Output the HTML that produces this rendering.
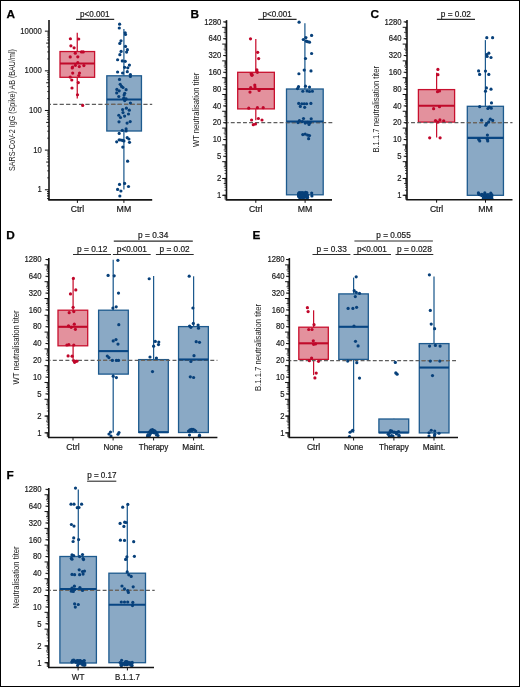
<!DOCTYPE html>
<html><head><meta charset="utf-8"><style>
html,body{margin:0;padding:0;background:#fff;}
body{width:520px;height:687px;position:relative;overflow:hidden;}
svg{will-change:transform}
#frame{position:absolute;left:0;top:0;width:518px;height:685px;border:1px solid #000;pointer-events:none;}
</style></head><body>
<svg width="520" height="687" viewBox="0 0 520 687" style="position:absolute;left:0;top:0" font-family='"Liberation Sans", sans-serif'>
<rect x="0" y="0" width="520" height="687" fill="#fff"/>
<text x="6.40" y="18.00" font-size="11.8" text-anchor="start" fill="#000" font-weight="bold" stroke="#000" stroke-width="0.25" >A</text>
<line x1="49.00" y1="20.10" x2="49.00" y2="199.90" stroke="#141414" stroke-width="1.6" />
<line x1="47.10" y1="198.57" x2="49.00" y2="198.57" stroke="#141414" stroke-width="0.8" />
<line x1="47.10" y1="195.91" x2="49.00" y2="195.91" stroke="#141414" stroke-width="0.8" />
<line x1="47.10" y1="193.61" x2="49.00" y2="193.61" stroke="#141414" stroke-width="0.8" />
<line x1="47.10" y1="191.58" x2="49.00" y2="191.58" stroke="#141414" stroke-width="0.8" />
<line x1="47.10" y1="177.83" x2="49.00" y2="177.83" stroke="#141414" stroke-width="0.8" />
<line x1="47.10" y1="170.85" x2="49.00" y2="170.85" stroke="#141414" stroke-width="0.8" />
<line x1="47.10" y1="165.90" x2="49.00" y2="165.90" stroke="#141414" stroke-width="0.8" />
<line x1="47.10" y1="158.92" x2="49.00" y2="158.92" stroke="#141414" stroke-width="0.8" />
<line x1="47.10" y1="156.26" x2="49.00" y2="156.26" stroke="#141414" stroke-width="0.8" />
<line x1="47.10" y1="153.96" x2="49.00" y2="153.96" stroke="#141414" stroke-width="0.8" />
<line x1="47.10" y1="151.93" x2="49.00" y2="151.93" stroke="#141414" stroke-width="0.8" />
<line x1="47.10" y1="138.18" x2="49.00" y2="138.18" stroke="#141414" stroke-width="0.8" />
<line x1="47.10" y1="131.20" x2="49.00" y2="131.20" stroke="#141414" stroke-width="0.8" />
<line x1="47.10" y1="126.25" x2="49.00" y2="126.25" stroke="#141414" stroke-width="0.8" />
<line x1="47.10" y1="119.27" x2="49.00" y2="119.27" stroke="#141414" stroke-width="0.8" />
<line x1="47.10" y1="116.61" x2="49.00" y2="116.61" stroke="#141414" stroke-width="0.8" />
<line x1="47.10" y1="114.31" x2="49.00" y2="114.31" stroke="#141414" stroke-width="0.8" />
<line x1="47.10" y1="112.28" x2="49.00" y2="112.28" stroke="#141414" stroke-width="0.8" />
<line x1="47.10" y1="98.53" x2="49.00" y2="98.53" stroke="#141414" stroke-width="0.8" />
<line x1="47.10" y1="91.55" x2="49.00" y2="91.55" stroke="#141414" stroke-width="0.8" />
<line x1="47.10" y1="86.60" x2="49.00" y2="86.60" stroke="#141414" stroke-width="0.8" />
<line x1="47.10" y1="79.62" x2="49.00" y2="79.62" stroke="#141414" stroke-width="0.8" />
<line x1="47.10" y1="76.96" x2="49.00" y2="76.96" stroke="#141414" stroke-width="0.8" />
<line x1="47.10" y1="74.66" x2="49.00" y2="74.66" stroke="#141414" stroke-width="0.8" />
<line x1="47.10" y1="72.63" x2="49.00" y2="72.63" stroke="#141414" stroke-width="0.8" />
<line x1="47.10" y1="58.88" x2="49.00" y2="58.88" stroke="#141414" stroke-width="0.8" />
<line x1="47.10" y1="51.90" x2="49.00" y2="51.90" stroke="#141414" stroke-width="0.8" />
<line x1="47.10" y1="46.95" x2="49.00" y2="46.95" stroke="#141414" stroke-width="0.8" />
<line x1="47.10" y1="39.97" x2="49.00" y2="39.97" stroke="#141414" stroke-width="0.8" />
<line x1="47.10" y1="37.31" x2="49.00" y2="37.31" stroke="#141414" stroke-width="0.8" />
<line x1="47.10" y1="35.01" x2="49.00" y2="35.01" stroke="#141414" stroke-width="0.8" />
<line x1="47.10" y1="32.98" x2="49.00" y2="32.98" stroke="#141414" stroke-width="0.8" />
<line x1="47.10" y1="198.57" x2="49.00" y2="198.57" stroke="#141414" stroke-width="0.8" />
<line x1="47.10" y1="195.91" x2="49.00" y2="195.91" stroke="#141414" stroke-width="0.8" />
<line x1="47.10" y1="193.61" x2="49.00" y2="193.61" stroke="#141414" stroke-width="0.8" />
<line x1="47.10" y1="191.58" x2="49.00" y2="191.58" stroke="#141414" stroke-width="0.8" />
<line x1="46.20" y1="162.06" x2="49.00" y2="162.06" stroke="#141414" stroke-width="1.0" />
<line x1="46.20" y1="122.41" x2="49.00" y2="122.41" stroke="#141414" stroke-width="1.0" />
<line x1="46.20" y1="82.76" x2="49.00" y2="82.76" stroke="#141414" stroke-width="1.0" />
<line x1="46.20" y1="43.11" x2="49.00" y2="43.11" stroke="#141414" stroke-width="1.0" />
<line x1="44.90" y1="31.17" x2="49.00" y2="31.17" stroke="#141414" stroke-width="1.0" />
<text x="41.80" y="33.67" font-size="9.2" text-anchor="end" fill="#1a1a1a" font-weight="normal" stroke="#1a1a1a" stroke-width="0.2" textLength="21.48" lengthAdjust="spacingAndGlyphs" >10000</text>
<line x1="44.90" y1="70.82" x2="49.00" y2="70.82" stroke="#141414" stroke-width="1.0" />
<text x="41.80" y="73.32" font-size="9.2" text-anchor="end" fill="#1a1a1a" font-weight="normal" stroke="#1a1a1a" stroke-width="0.2" textLength="17.19" lengthAdjust="spacingAndGlyphs" >1000</text>
<line x1="44.90" y1="110.47" x2="49.00" y2="110.47" stroke="#141414" stroke-width="1.0" />
<text x="41.80" y="112.97" font-size="9.2" text-anchor="end" fill="#1a1a1a" font-weight="normal" stroke="#1a1a1a" stroke-width="0.2" textLength="12.89" lengthAdjust="spacingAndGlyphs" >100</text>
<line x1="44.90" y1="150.12" x2="49.00" y2="150.12" stroke="#141414" stroke-width="1.0" />
<text x="41.80" y="152.62" font-size="9.2" text-anchor="end" fill="#1a1a1a" font-weight="normal" stroke="#1a1a1a" stroke-width="0.2" textLength="8.59" lengthAdjust="spacingAndGlyphs" >10</text>
<line x1="44.90" y1="189.77" x2="49.00" y2="189.77" stroke="#141414" stroke-width="1.0" />
<text x="41.80" y="192.27" font-size="9.2" text-anchor="end" fill="#1a1a1a" font-weight="normal" stroke="#1a1a1a" stroke-width="0.2" textLength="4.3" lengthAdjust="spacingAndGlyphs" >1</text>
<line x1="77.25" y1="32.70" x2="77.25" y2="51.55" stroke="#c8102e" stroke-width="1.25" />
<line x1="77.25" y1="77.30" x2="77.25" y2="98.60" stroke="#c8102e" stroke-width="1.25" />
<rect x="60.00" y="51.55" width="34.60" height="25.75" fill="#e3919d" stroke="#c8102e" stroke-width="1.3"/>
<line x1="123.90" y1="29.10" x2="123.90" y2="75.80" stroke="#1d5a8e" stroke-width="1.25" />
<line x1="123.90" y1="131.00" x2="123.90" y2="189.60" stroke="#1d5a8e" stroke-width="1.25" />
<rect x="106.80" y="75.80" width="34.65" height="55.20" fill="#8aa9c5" stroke="#1d5a8e" stroke-width="1.3"/>
<line x1="49.80" y1="104.40" x2="152.20" y2="104.40" stroke="#5e5e5e" stroke-width="1.3" stroke-dasharray="4.2 2.24" stroke-dashoffset="3.04"/>
<clipPath id="cl1"><rect x="107.50" y="75.80" width="33.25" height="55.20"/></clipPath>
<line x1="49.80" y1="104.40" x2="152.20" y2="104.40" stroke="#6c655d" stroke-width="1.3" stroke-dasharray="4.2 2.24" stroke-dashoffset="3.04" clip-path="url(#cl1)"/>
<line x1="60.00" y1="63.55" x2="94.60" y2="63.55" stroke="#c00a2a" stroke-width="2.1" />
<line x1="106.80" y1="99.50" x2="141.45" y2="99.50" stroke="#084683" stroke-width="2.1" />
<circle cx="70.40" cy="38.75" r="1.6" fill="#c0062a"/>
<circle cx="78.70" cy="39.00" r="1.6" fill="#c0062a"/>
<circle cx="70.90" cy="45.80" r="1.6" fill="#c0062a"/>
<circle cx="74.10" cy="47.80" r="1.6" fill="#c0062a"/>
<circle cx="75.30" cy="53.20" r="1.6" fill="#c0062a"/>
<circle cx="81.50" cy="51.90" r="1.6" fill="#c0062a"/>
<circle cx="83.20" cy="51.90" r="1.6" fill="#c0062a"/>
<circle cx="70.20" cy="56.90" r="1.6" fill="#c0062a"/>
<circle cx="77.80" cy="56.80" r="1.6" fill="#c0062a"/>
<circle cx="77.80" cy="62.70" r="1.6" fill="#c0062a"/>
<circle cx="75.40" cy="65.30" r="1.6" fill="#c0062a"/>
<circle cx="72.50" cy="67.10" r="1.6" fill="#c0062a"/>
<circle cx="72.20" cy="68.00" r="1.6" fill="#c0062a"/>
<circle cx="79.30" cy="66.60" r="1.6" fill="#c0062a"/>
<circle cx="83.90" cy="65.60" r="1.6" fill="#c0062a"/>
<circle cx="72.70" cy="73.10" r="1.6" fill="#c0062a"/>
<circle cx="79.50" cy="73.10" r="1.6" fill="#c0062a"/>
<circle cx="78.80" cy="75.50" r="1.6" fill="#c0062a"/>
<circle cx="70.20" cy="77.10" r="1.6" fill="#c0062a"/>
<circle cx="71.80" cy="80.00" r="1.6" fill="#c0062a"/>
<circle cx="78.30" cy="82.60" r="1.6" fill="#c0062a"/>
<circle cx="72.00" cy="88.00" r="1.6" fill="#c0062a"/>
<circle cx="77.50" cy="94.75" r="1.6" fill="#c0062a"/>
<circle cx="82.70" cy="105.45" r="1.6" fill="#c0062a"/>
<circle cx="119.60" cy="24.20" r="1.6" fill="#07407a"/>
<circle cx="119.30" cy="28.00" r="1.6" fill="#07407a"/>
<circle cx="125.20" cy="32.80" r="1.6" fill="#07407a"/>
<circle cx="125.50" cy="34.50" r="1.6" fill="#07407a"/>
<circle cx="121.00" cy="40.80" r="1.6" fill="#07407a"/>
<circle cx="119.80" cy="43.40" r="1.6" fill="#07407a"/>
<circle cx="125.50" cy="46.40" r="1.6" fill="#07407a"/>
<circle cx="127.40" cy="49.70" r="1.6" fill="#07407a"/>
<circle cx="121.10" cy="51.40" r="1.6" fill="#07407a"/>
<circle cx="126.60" cy="52.10" r="1.6" fill="#07407a"/>
<circle cx="119.85" cy="54.70" r="1.6" fill="#07407a"/>
<circle cx="117.60" cy="59.75" r="1.6" fill="#07407a"/>
<circle cx="122.30" cy="60.90" r="1.6" fill="#07407a"/>
<circle cx="125.25" cy="61.30" r="1.6" fill="#07407a"/>
<circle cx="129.40" cy="65.10" r="1.6" fill="#07407a"/>
<circle cx="124.60" cy="67.30" r="1.6" fill="#07407a"/>
<circle cx="127.80" cy="67.85" r="1.6" fill="#07407a"/>
<circle cx="117.60" cy="72.00" r="1.6" fill="#07407a"/>
<circle cx="122.60" cy="73.00" r="1.6" fill="#07407a"/>
<circle cx="127.30" cy="71.70" r="1.6" fill="#07407a"/>
<circle cx="130.40" cy="74.60" r="1.6" fill="#07407a"/>
<circle cx="130.40" cy="76.50" r="1.6" fill="#07407a"/>
<circle cx="119.50" cy="79.40" r="1.6" fill="#07407a"/>
<circle cx="120.20" cy="84.30" r="1.6" fill="#07407a"/>
<circle cx="121.60" cy="86.40" r="1.6" fill="#07407a"/>
<circle cx="123.00" cy="87.50" r="1.6" fill="#07407a"/>
<circle cx="116.90" cy="89.40" r="1.6" fill="#07407a"/>
<circle cx="119.20" cy="90.80" r="1.6" fill="#07407a"/>
<circle cx="126.10" cy="89.70" r="1.6" fill="#07407a"/>
<circle cx="116.70" cy="92.90" r="1.6" fill="#07407a"/>
<circle cx="124.70" cy="93.35" r="1.6" fill="#07407a"/>
<circle cx="124.10" cy="95.10" r="1.6" fill="#07407a"/>
<circle cx="118.80" cy="96.50" r="1.6" fill="#07407a"/>
<circle cx="123.70" cy="98.20" r="1.6" fill="#07407a"/>
<circle cx="125.00" cy="99.20" r="1.6" fill="#07407a"/>
<circle cx="126.10" cy="98.90" r="1.6" fill="#07407a"/>
<circle cx="124.70" cy="100.60" r="1.6" fill="#07407a"/>
<circle cx="130.40" cy="103.00" r="1.6" fill="#07407a"/>
<circle cx="126.40" cy="108.20" r="1.6" fill="#07407a"/>
<circle cx="122.60" cy="109.60" r="1.6" fill="#07407a"/>
<circle cx="129.30" cy="110.20" r="1.6" fill="#07407a"/>
<circle cx="123.00" cy="112.60" r="1.6" fill="#07407a"/>
<circle cx="128.50" cy="114.00" r="1.6" fill="#07407a"/>
<circle cx="118.80" cy="115.25" r="1.6" fill="#07407a"/>
<circle cx="120.50" cy="117.50" r="1.6" fill="#07407a"/>
<circle cx="124.60" cy="116.10" r="1.6" fill="#07407a"/>
<circle cx="119.00" cy="121.80" r="1.6" fill="#07407a"/>
<circle cx="127.10" cy="123.10" r="1.6" fill="#07407a"/>
<circle cx="130.20" cy="121.60" r="1.6" fill="#07407a"/>
<circle cx="126.10" cy="128.90" r="1.6" fill="#07407a"/>
<circle cx="122.30" cy="130.30" r="1.6" fill="#07407a"/>
<circle cx="126.10" cy="131.00" r="1.6" fill="#07407a"/>
<circle cx="119.20" cy="133.40" r="1.6" fill="#07407a"/>
<circle cx="127.20" cy="137.70" r="1.6" fill="#07407a"/>
<circle cx="128.90" cy="139.00" r="1.6" fill="#07407a"/>
<circle cx="129.50" cy="142.30" r="1.6" fill="#07407a"/>
<circle cx="116.70" cy="141.80" r="1.6" fill="#07407a"/>
<circle cx="119.20" cy="139.80" r="1.6" fill="#07407a"/>
<circle cx="120.90" cy="140.00" r="1.6" fill="#07407a"/>
<circle cx="122.60" cy="140.40" r="1.6" fill="#07407a"/>
<circle cx="123.90" cy="140.90" r="1.6" fill="#07407a"/>
<circle cx="122.80" cy="147.10" r="1.6" fill="#07407a"/>
<circle cx="127.60" cy="161.20" r="1.6" fill="#07407a"/>
<circle cx="119.50" cy="184.40" r="1.6" fill="#07407a"/>
<circle cx="124.60" cy="183.40" r="1.6" fill="#07407a"/>
<circle cx="128.50" cy="186.50" r="1.6" fill="#07407a"/>
<circle cx="117.60" cy="189.40" r="1.6" fill="#07407a"/>
<circle cx="120.90" cy="191.00" r="1.6" fill="#07407a"/>
<circle cx="119.85" cy="196.00" r="1.6" fill="#07407a"/>
<line x1="48.20" y1="199.90" x2="152.20" y2="199.90" stroke="#141414" stroke-width="1.6" />
<line x1="77.40" y1="199.90" x2="77.40" y2="202.90" stroke="#141414" stroke-width="1.0" />
<text x="77.40" y="211.90" font-size="8.3" text-anchor="middle" fill="#1a1a1a" font-weight="normal" stroke="#1a1a1a" stroke-width="0.2" textLength="13.4" lengthAdjust="spacingAndGlyphs" >Ctrl</text>
<line x1="123.90" y1="199.90" x2="123.90" y2="202.90" stroke="#141414" stroke-width="1.0" />
<text x="123.90" y="211.90" font-size="8.3" text-anchor="middle" fill="#1a1a1a" font-weight="normal" stroke="#1a1a1a" stroke-width="0.2" textLength="14.6" lengthAdjust="spacingAndGlyphs" >MM</text>
<text x="14.60" y="110.05" font-size="9.8" text-anchor="middle" fill="#222" font-weight="normal" textLength="122" lengthAdjust="spacingAndGlyphs" transform="rotate(-90 14.60 110.05)" >SARS-CoV-2 IgG (Spike) AB (BAU/ml)</text>
<text x="94.80" y="17.00" font-size="8.4" text-anchor="middle" fill="#1a1a1a" font-weight="normal" stroke="#1a1a1a" stroke-width="0.2" textLength="29.4" lengthAdjust="spacingAndGlyphs" >p&lt;0.001</text>
<line x1="76.00" y1="19.40" x2="114.20" y2="19.40" stroke="#2b2b2b" stroke-width="1.1" />
<text x="190.40" y="18.00" font-size="11.8" text-anchor="start" fill="#000" font-weight="bold" stroke="#000" stroke-width="0.25" >B</text>
<line x1="226.50" y1="20.15" x2="226.50" y2="199.85" stroke="#141414" stroke-width="1.6" />
<line x1="223.70" y1="183.53" x2="226.50" y2="183.53" stroke="#141414" stroke-width="0.9" />
<line x1="223.70" y1="166.73" x2="226.50" y2="166.73" stroke="#141414" stroke-width="0.9" />
<line x1="223.70" y1="149.93" x2="226.50" y2="149.93" stroke="#141414" stroke-width="0.9" />
<line x1="223.70" y1="133.14" x2="226.50" y2="133.14" stroke="#141414" stroke-width="0.9" />
<line x1="223.70" y1="116.34" x2="226.50" y2="116.34" stroke="#141414" stroke-width="0.9" />
<line x1="223.70" y1="99.54" x2="226.50" y2="99.54" stroke="#141414" stroke-width="0.9" />
<line x1="223.70" y1="82.74" x2="226.50" y2="82.74" stroke="#141414" stroke-width="0.9" />
<line x1="223.70" y1="65.95" x2="226.50" y2="65.95" stroke="#141414" stroke-width="0.9" />
<line x1="223.70" y1="49.15" x2="226.50" y2="49.15" stroke="#141414" stroke-width="0.9" />
<line x1="223.70" y1="32.35" x2="226.50" y2="32.35" stroke="#141414" stroke-width="0.9" />
<line x1="224.50" y1="199.00" x2="226.50" y2="199.00" stroke="#141414" stroke-width="0.8" />
<line x1="224.50" y1="197.87" x2="226.50" y2="197.87" stroke="#141414" stroke-width="0.8" />
<line x1="224.50" y1="196.90" x2="226.50" y2="196.90" stroke="#141414" stroke-width="0.8" />
<line x1="224.50" y1="196.04" x2="226.50" y2="196.04" stroke="#141414" stroke-width="0.8" />
<line x1="224.50" y1="190.21" x2="226.50" y2="190.21" stroke="#141414" stroke-width="0.8" />
<line x1="224.50" y1="187.26" x2="226.50" y2="187.26" stroke="#141414" stroke-width="0.8" />
<line x1="224.50" y1="185.16" x2="226.50" y2="185.16" stroke="#141414" stroke-width="0.8" />
<line x1="224.50" y1="182.20" x2="226.50" y2="182.20" stroke="#141414" stroke-width="0.8" />
<line x1="224.50" y1="181.07" x2="226.50" y2="181.07" stroke="#141414" stroke-width="0.8" />
<line x1="224.50" y1="180.10" x2="226.50" y2="180.10" stroke="#141414" stroke-width="0.8" />
<line x1="224.50" y1="179.24" x2="226.50" y2="179.24" stroke="#141414" stroke-width="0.8" />
<line x1="224.50" y1="173.42" x2="226.50" y2="173.42" stroke="#141414" stroke-width="0.8" />
<line x1="224.50" y1="170.46" x2="226.50" y2="170.46" stroke="#141414" stroke-width="0.8" />
<line x1="224.50" y1="168.36" x2="226.50" y2="168.36" stroke="#141414" stroke-width="0.8" />
<line x1="224.50" y1="165.40" x2="226.50" y2="165.40" stroke="#141414" stroke-width="0.8" />
<line x1="224.50" y1="164.28" x2="226.50" y2="164.28" stroke="#141414" stroke-width="0.8" />
<line x1="224.50" y1="163.30" x2="226.50" y2="163.30" stroke="#141414" stroke-width="0.8" />
<line x1="224.50" y1="162.44" x2="226.50" y2="162.44" stroke="#141414" stroke-width="0.8" />
<line x1="224.50" y1="156.62" x2="226.50" y2="156.62" stroke="#141414" stroke-width="0.8" />
<line x1="224.50" y1="153.66" x2="226.50" y2="153.66" stroke="#141414" stroke-width="0.8" />
<line x1="224.50" y1="151.56" x2="226.50" y2="151.56" stroke="#141414" stroke-width="0.8" />
<line x1="224.50" y1="148.60" x2="226.50" y2="148.60" stroke="#141414" stroke-width="0.8" />
<line x1="224.50" y1="147.48" x2="226.50" y2="147.48" stroke="#141414" stroke-width="0.8" />
<line x1="224.50" y1="146.51" x2="226.50" y2="146.51" stroke="#141414" stroke-width="0.8" />
<line x1="224.50" y1="145.65" x2="226.50" y2="145.65" stroke="#141414" stroke-width="0.8" />
<line x1="224.50" y1="139.82" x2="226.50" y2="139.82" stroke="#141414" stroke-width="0.8" />
<line x1="224.50" y1="136.86" x2="226.50" y2="136.86" stroke="#141414" stroke-width="0.8" />
<line x1="224.50" y1="134.76" x2="226.50" y2="134.76" stroke="#141414" stroke-width="0.8" />
<line x1="224.50" y1="131.81" x2="226.50" y2="131.81" stroke="#141414" stroke-width="0.8" />
<line x1="224.50" y1="130.68" x2="226.50" y2="130.68" stroke="#141414" stroke-width="0.8" />
<line x1="224.50" y1="129.71" x2="226.50" y2="129.71" stroke="#141414" stroke-width="0.8" />
<line x1="224.50" y1="128.85" x2="226.50" y2="128.85" stroke="#141414" stroke-width="0.8" />
<line x1="224.50" y1="123.02" x2="226.50" y2="123.02" stroke="#141414" stroke-width="0.8" />
<line x1="224.50" y1="120.07" x2="226.50" y2="120.07" stroke="#141414" stroke-width="0.8" />
<line x1="224.50" y1="117.97" x2="226.50" y2="117.97" stroke="#141414" stroke-width="0.8" />
<line x1="224.50" y1="115.01" x2="226.50" y2="115.01" stroke="#141414" stroke-width="0.8" />
<line x1="224.50" y1="113.88" x2="226.50" y2="113.88" stroke="#141414" stroke-width="0.8" />
<line x1="224.50" y1="112.91" x2="226.50" y2="112.91" stroke="#141414" stroke-width="0.8" />
<line x1="224.50" y1="112.05" x2="226.50" y2="112.05" stroke="#141414" stroke-width="0.8" />
<line x1="224.50" y1="106.23" x2="226.50" y2="106.23" stroke="#141414" stroke-width="0.8" />
<line x1="224.50" y1="103.27" x2="226.50" y2="103.27" stroke="#141414" stroke-width="0.8" />
<line x1="224.50" y1="101.17" x2="226.50" y2="101.17" stroke="#141414" stroke-width="0.8" />
<line x1="224.50" y1="98.21" x2="226.50" y2="98.21" stroke="#141414" stroke-width="0.8" />
<line x1="224.50" y1="97.09" x2="226.50" y2="97.09" stroke="#141414" stroke-width="0.8" />
<line x1="224.50" y1="96.11" x2="226.50" y2="96.11" stroke="#141414" stroke-width="0.8" />
<line x1="224.50" y1="95.25" x2="226.50" y2="95.25" stroke="#141414" stroke-width="0.8" />
<line x1="224.50" y1="89.43" x2="226.50" y2="89.43" stroke="#141414" stroke-width="0.8" />
<line x1="224.50" y1="86.47" x2="226.50" y2="86.47" stroke="#141414" stroke-width="0.8" />
<line x1="224.50" y1="84.37" x2="226.50" y2="84.37" stroke="#141414" stroke-width="0.8" />
<line x1="224.50" y1="81.41" x2="226.50" y2="81.41" stroke="#141414" stroke-width="0.8" />
<line x1="224.50" y1="80.29" x2="226.50" y2="80.29" stroke="#141414" stroke-width="0.8" />
<line x1="224.50" y1="79.32" x2="226.50" y2="79.32" stroke="#141414" stroke-width="0.8" />
<line x1="224.50" y1="78.46" x2="226.50" y2="78.46" stroke="#141414" stroke-width="0.8" />
<line x1="224.50" y1="72.63" x2="226.50" y2="72.63" stroke="#141414" stroke-width="0.8" />
<line x1="224.50" y1="69.67" x2="226.50" y2="69.67" stroke="#141414" stroke-width="0.8" />
<line x1="224.50" y1="67.57" x2="226.50" y2="67.57" stroke="#141414" stroke-width="0.8" />
<line x1="224.50" y1="64.62" x2="226.50" y2="64.62" stroke="#141414" stroke-width="0.8" />
<line x1="224.50" y1="63.49" x2="226.50" y2="63.49" stroke="#141414" stroke-width="0.8" />
<line x1="224.50" y1="62.52" x2="226.50" y2="62.52" stroke="#141414" stroke-width="0.8" />
<line x1="224.50" y1="61.66" x2="226.50" y2="61.66" stroke="#141414" stroke-width="0.8" />
<line x1="224.50" y1="55.83" x2="226.50" y2="55.83" stroke="#141414" stroke-width="0.8" />
<line x1="224.50" y1="52.88" x2="226.50" y2="52.88" stroke="#141414" stroke-width="0.8" />
<line x1="224.50" y1="50.78" x2="226.50" y2="50.78" stroke="#141414" stroke-width="0.8" />
<line x1="224.50" y1="47.82" x2="226.50" y2="47.82" stroke="#141414" stroke-width="0.8" />
<line x1="224.50" y1="46.69" x2="226.50" y2="46.69" stroke="#141414" stroke-width="0.8" />
<line x1="224.50" y1="45.72" x2="226.50" y2="45.72" stroke="#141414" stroke-width="0.8" />
<line x1="224.50" y1="44.86" x2="226.50" y2="44.86" stroke="#141414" stroke-width="0.8" />
<line x1="224.50" y1="39.04" x2="226.50" y2="39.04" stroke="#141414" stroke-width="0.8" />
<line x1="224.50" y1="36.08" x2="226.50" y2="36.08" stroke="#141414" stroke-width="0.8" />
<line x1="224.50" y1="33.98" x2="226.50" y2="33.98" stroke="#141414" stroke-width="0.8" />
<line x1="224.50" y1="31.02" x2="226.50" y2="31.02" stroke="#141414" stroke-width="0.8" />
<line x1="224.50" y1="29.90" x2="226.50" y2="29.90" stroke="#141414" stroke-width="0.8" />
<line x1="224.50" y1="28.92" x2="226.50" y2="28.92" stroke="#141414" stroke-width="0.8" />
<line x1="224.50" y1="28.06" x2="226.50" y2="28.06" stroke="#141414" stroke-width="0.8" />
<line x1="224.50" y1="22.24" x2="226.50" y2="22.24" stroke="#141414" stroke-width="0.8" />
<line x1="222.20" y1="195.27" x2="226.50" y2="195.27" stroke="#141414" stroke-width="1.0" />
<line x1="222.20" y1="178.47" x2="226.50" y2="178.47" stroke="#141414" stroke-width="1.0" />
<line x1="222.20" y1="161.68" x2="226.50" y2="161.68" stroke="#141414" stroke-width="1.0" />
<line x1="222.20" y1="144.88" x2="226.50" y2="144.88" stroke="#141414" stroke-width="1.0" />
<line x1="222.20" y1="128.08" x2="226.50" y2="128.08" stroke="#141414" stroke-width="1.0" />
<line x1="222.20" y1="111.28" x2="226.50" y2="111.28" stroke="#141414" stroke-width="1.0" />
<line x1="222.20" y1="94.49" x2="226.50" y2="94.49" stroke="#141414" stroke-width="1.0" />
<line x1="222.20" y1="77.69" x2="226.50" y2="77.69" stroke="#141414" stroke-width="1.0" />
<line x1="222.20" y1="60.89" x2="226.50" y2="60.89" stroke="#141414" stroke-width="1.0" />
<line x1="222.20" y1="44.09" x2="226.50" y2="44.09" stroke="#141414" stroke-width="1.0" />
<line x1="222.20" y1="27.30" x2="226.50" y2="27.30" stroke="#141414" stroke-width="1.0" />
<line x1="223.20" y1="21.89" x2="226.50" y2="21.89" stroke="#141414" stroke-width="1.0" />
<text x="221.40" y="24.69" font-size="9.2" text-anchor="end" fill="#1a1a1a" font-weight="normal" stroke="#1a1a1a" stroke-width="0.2" textLength="17.19" lengthAdjust="spacingAndGlyphs" >1280</text>
<line x1="223.20" y1="38.69" x2="226.50" y2="38.69" stroke="#141414" stroke-width="1.0" />
<text x="221.40" y="41.49" font-size="9.2" text-anchor="end" fill="#1a1a1a" font-weight="normal" stroke="#1a1a1a" stroke-width="0.2" textLength="12.89" lengthAdjust="spacingAndGlyphs" >640</text>
<line x1="223.20" y1="55.48" x2="226.50" y2="55.48" stroke="#141414" stroke-width="1.0" />
<text x="221.40" y="58.28" font-size="9.2" text-anchor="end" fill="#1a1a1a" font-weight="normal" stroke="#1a1a1a" stroke-width="0.2" textLength="12.89" lengthAdjust="spacingAndGlyphs" >320</text>
<line x1="223.20" y1="72.28" x2="226.50" y2="72.28" stroke="#141414" stroke-width="1.0" />
<text x="221.40" y="75.08" font-size="9.2" text-anchor="end" fill="#1a1a1a" font-weight="normal" stroke="#1a1a1a" stroke-width="0.2" textLength="12.89" lengthAdjust="spacingAndGlyphs" >160</text>
<line x1="223.20" y1="89.08" x2="226.50" y2="89.08" stroke="#141414" stroke-width="1.0" />
<text x="221.40" y="91.88" font-size="9.2" text-anchor="end" fill="#1a1a1a" font-weight="normal" stroke="#1a1a1a" stroke-width="0.2" textLength="8.59" lengthAdjust="spacingAndGlyphs" >80</text>
<line x1="223.20" y1="105.88" x2="226.50" y2="105.88" stroke="#141414" stroke-width="1.0" />
<text x="221.40" y="108.68" font-size="9.2" text-anchor="end" fill="#1a1a1a" font-weight="normal" stroke="#1a1a1a" stroke-width="0.2" textLength="8.59" lengthAdjust="spacingAndGlyphs" >40</text>
<line x1="223.20" y1="122.67" x2="226.50" y2="122.67" stroke="#141414" stroke-width="1.0" />
<text x="221.40" y="125.47" font-size="9.2" text-anchor="end" fill="#1a1a1a" font-weight="normal" stroke="#1a1a1a" stroke-width="0.2" textLength="8.59" lengthAdjust="spacingAndGlyphs" >20</text>
<line x1="223.20" y1="139.47" x2="226.50" y2="139.47" stroke="#141414" stroke-width="1.0" />
<text x="221.40" y="142.27" font-size="9.2" text-anchor="end" fill="#1a1a1a" font-weight="normal" stroke="#1a1a1a" stroke-width="0.2" textLength="8.59" lengthAdjust="spacingAndGlyphs" >10</text>
<line x1="223.20" y1="156.27" x2="226.50" y2="156.27" stroke="#141414" stroke-width="1.0" />
<text x="221.40" y="159.07" font-size="9.2" text-anchor="end" fill="#1a1a1a" font-weight="normal" stroke="#1a1a1a" stroke-width="0.2" textLength="4.3" lengthAdjust="spacingAndGlyphs" >5</text>
<line x1="223.20" y1="178.47" x2="226.50" y2="178.47" stroke="#141414" stroke-width="1.0" />
<text x="221.40" y="181.27" font-size="9.2" text-anchor="end" fill="#1a1a1a" font-weight="normal" stroke="#1a1a1a" stroke-width="0.2" textLength="4.3" lengthAdjust="spacingAndGlyphs" >2</text>
<line x1="223.20" y1="195.27" x2="226.50" y2="195.27" stroke="#141414" stroke-width="1.0" />
<text x="221.40" y="198.07" font-size="9.2" text-anchor="end" fill="#1a1a1a" font-weight="normal" stroke="#1a1a1a" stroke-width="0.2" textLength="4.3" lengthAdjust="spacingAndGlyphs" >1</text>
<line x1="255.80" y1="39.10" x2="255.80" y2="72.30" stroke="#c8102e" stroke-width="1.25" />
<line x1="255.80" y1="108.90" x2="255.80" y2="120.20" stroke="#c8102e" stroke-width="1.25" />
<rect x="237.70" y="72.30" width="36.65" height="36.60" fill="#e3919d" stroke="#c8102e" stroke-width="1.3"/>
<line x1="304.90" y1="23.20" x2="304.90" y2="89.00" stroke="#1d5a8e" stroke-width="1.25" />
<rect x="286.50" y="89.00" width="36.70" height="105.80" fill="#8aa9c5" stroke="#1d5a8e" stroke-width="1.3"/>
<line x1="227.30" y1="122.60" x2="332.30" y2="122.60" stroke="#5e5e5e" stroke-width="1.3" stroke-dasharray="3.9 2.20" stroke-dashoffset="2.60"/>
<clipPath id="cl2"><rect x="287.20" y="89.00" width="35.30" height="105.80"/></clipPath>
<line x1="227.30" y1="122.60" x2="332.30" y2="122.60" stroke="#6c655d" stroke-width="1.3" stroke-dasharray="3.9 2.20" stroke-dashoffset="2.60" clip-path="url(#cl2)"/>
<line x1="237.70" y1="89.00" x2="274.35" y2="89.00" stroke="#c00a2a" stroke-width="2.1" />
<line x1="286.50" y1="121.45" x2="323.20" y2="121.45" stroke="#084683" stroke-width="2.1" />
<circle cx="250.50" cy="38.80" r="1.6" fill="#c0062a"/>
<circle cx="257.70" cy="52.30" r="1.6" fill="#c0062a"/>
<circle cx="258.65" cy="58.60" r="1.6" fill="#c0062a"/>
<circle cx="256.90" cy="69.90" r="1.6" fill="#c0062a"/>
<circle cx="257.40" cy="72.30" r="1.6" fill="#c0062a"/>
<circle cx="251.15" cy="73.75" r="1.6" fill="#c0062a"/>
<circle cx="252.10" cy="74.70" r="1.6" fill="#c0062a"/>
<circle cx="251.90" cy="75.30" r="1.6" fill="#c0062a"/>
<circle cx="254.80" cy="85.10" r="1.6" fill="#c0062a"/>
<circle cx="250.70" cy="87.50" r="1.6" fill="#c0062a"/>
<circle cx="255.00" cy="87.00" r="1.6" fill="#c0062a"/>
<circle cx="250.00" cy="92.10" r="1.6" fill="#c0062a"/>
<circle cx="259.10" cy="90.40" r="1.6" fill="#c0062a"/>
<circle cx="248.75" cy="108.20" r="1.6" fill="#c0062a"/>
<circle cx="257.40" cy="107.70" r="1.6" fill="#c0062a"/>
<circle cx="263.20" cy="107.70" r="1.6" fill="#c0062a"/>
<circle cx="251.60" cy="120.00" r="1.6" fill="#c0062a"/>
<circle cx="258.40" cy="118.50" r="1.6" fill="#c0062a"/>
<circle cx="262.00" cy="120.00" r="1.6" fill="#c0062a"/>
<circle cx="253.30" cy="124.70" r="1.6" fill="#c0062a"/>
<circle cx="255.50" cy="124.00" r="1.6" fill="#c0062a"/>
<circle cx="299.10" cy="22.20" r="1.6" fill="#07407a"/>
<circle cx="311.60" cy="35.40" r="1.6" fill="#07407a"/>
<circle cx="305.90" cy="37.60" r="1.6" fill="#07407a"/>
<circle cx="303.30" cy="39.50" r="1.6" fill="#07407a"/>
<circle cx="306.30" cy="41.20" r="1.6" fill="#07407a"/>
<circle cx="307.60" cy="41.70" r="1.6" fill="#07407a"/>
<circle cx="309.50" cy="42.20" r="1.6" fill="#07407a"/>
<circle cx="311.60" cy="53.50" r="1.6" fill="#07407a"/>
<circle cx="305.50" cy="58.50" r="1.6" fill="#07407a"/>
<circle cx="304.20" cy="70.10" r="1.6" fill="#07407a"/>
<circle cx="311.00" cy="70.90" r="1.6" fill="#07407a"/>
<circle cx="298.90" cy="73.75" r="1.6" fill="#07407a"/>
<circle cx="298.50" cy="86.70" r="1.6" fill="#07407a"/>
<circle cx="297.50" cy="88.60" r="1.6" fill="#07407a"/>
<circle cx="305.50" cy="86.20" r="1.6" fill="#07407a"/>
<circle cx="309.50" cy="87.10" r="1.6" fill="#07407a"/>
<circle cx="302.80" cy="91.25" r="1.6" fill="#07407a"/>
<circle cx="307.10" cy="91.00" r="1.6" fill="#07407a"/>
<circle cx="309.50" cy="91.50" r="1.6" fill="#07407a"/>
<circle cx="312.40" cy="91.25" r="1.6" fill="#07407a"/>
<circle cx="298.70" cy="103.40" r="1.6" fill="#07407a"/>
<circle cx="301.80" cy="103.75" r="1.6" fill="#07407a"/>
<circle cx="304.20" cy="103.75" r="1.6" fill="#07407a"/>
<circle cx="306.60" cy="103.75" r="1.6" fill="#07407a"/>
<circle cx="310.90" cy="103.40" r="1.6" fill="#07407a"/>
<circle cx="300.30" cy="106.40" r="1.6" fill="#07407a"/>
<circle cx="304.70" cy="107.30" r="1.6" fill="#07407a"/>
<circle cx="303.50" cy="118.50" r="1.6" fill="#07407a"/>
<circle cx="311.20" cy="118.75" r="1.6" fill="#07407a"/>
<circle cx="299.40" cy="120.70" r="1.6" fill="#07407a"/>
<circle cx="302.30" cy="121.60" r="1.6" fill="#07407a"/>
<circle cx="305.20" cy="123.10" r="1.6" fill="#07407a"/>
<circle cx="307.60" cy="122.30" r="1.6" fill="#07407a"/>
<circle cx="309.00" cy="124.50" r="1.6" fill="#07407a"/>
<circle cx="310.20" cy="122.60" r="1.6" fill="#07407a"/>
<circle cx="298.00" cy="122.60" r="1.6" fill="#07407a"/>
<circle cx="302.80" cy="134.60" r="1.6" fill="#07407a"/>
<circle cx="305.20" cy="134.10" r="1.6" fill="#07407a"/>
<circle cx="307.60" cy="135.10" r="1.6" fill="#07407a"/>
<circle cx="309.50" cy="135.60" r="1.6" fill="#07407a"/>
<circle cx="308.60" cy="138.65" r="1.6" fill="#07407a"/>
<circle cx="311.70" cy="193.00" r="1.6" fill="#07407a"/>
<circle cx="311.90" cy="195.90" r="1.6" fill="#07407a"/>
<circle cx="299.56" cy="197.48" r="1.6" fill="#07407a"/>
<circle cx="305.48" cy="193.93" r="1.6" fill="#07407a"/>
<circle cx="302.96" cy="195.10" r="1.6" fill="#07407a"/>
<circle cx="304.42" cy="197.13" r="1.6" fill="#07407a"/>
<circle cx="299.18" cy="192.57" r="1.6" fill="#07407a"/>
<circle cx="306.16" cy="195.00" r="1.6" fill="#07407a"/>
<circle cx="305.47" cy="192.41" r="1.6" fill="#07407a"/>
<circle cx="302.49" cy="196.73" r="1.6" fill="#07407a"/>
<circle cx="300.45" cy="198.07" r="1.6" fill="#07407a"/>
<circle cx="306.77" cy="192.58" r="1.6" fill="#07407a"/>
<circle cx="298.54" cy="195.65" r="1.6" fill="#07407a"/>
<circle cx="307.13" cy="194.69" r="1.6" fill="#07407a"/>
<circle cx="300.34" cy="194.93" r="1.6" fill="#07407a"/>
<circle cx="298.57" cy="193.73" r="1.6" fill="#07407a"/>
<circle cx="302.42" cy="195.37" r="1.6" fill="#07407a"/>
<circle cx="300.49" cy="193.79" r="1.6" fill="#07407a"/>
<circle cx="300.36" cy="195.16" r="1.6" fill="#07407a"/>
<circle cx="301.02" cy="192.53" r="1.6" fill="#07407a"/>
<circle cx="306.17" cy="195.74" r="1.6" fill="#07407a"/>
<circle cx="304.34" cy="193.52" r="1.6" fill="#07407a"/>
<circle cx="307.63" cy="197.56" r="1.6" fill="#07407a"/>
<circle cx="299.44" cy="194.40" r="1.6" fill="#07407a"/>
<circle cx="305.08" cy="196.67" r="1.6" fill="#07407a"/>
<circle cx="307.10" cy="194.93" r="1.6" fill="#07407a"/>
<circle cx="306.10" cy="196.42" r="1.6" fill="#07407a"/>
<circle cx="301.15" cy="195.93" r="1.6" fill="#07407a"/>
<circle cx="306.60" cy="197.48" r="1.6" fill="#07407a"/>
<circle cx="303.05" cy="195.93" r="1.6" fill="#07407a"/>
<circle cx="298.62" cy="193.86" r="1.6" fill="#07407a"/>
<circle cx="305.80" cy="194.89" r="1.6" fill="#07407a"/>
<circle cx="299.93" cy="195.69" r="1.6" fill="#07407a"/>
<circle cx="304.91" cy="196.45" r="1.6" fill="#07407a"/>
<circle cx="301.82" cy="195.03" r="1.6" fill="#07407a"/>
<circle cx="303.08" cy="197.07" r="1.6" fill="#07407a"/>
<circle cx="303.20" cy="194.76" r="1.6" fill="#07407a"/>
<circle cx="302.90" cy="192.58" r="1.6" fill="#07407a"/>
<circle cx="298.71" cy="196.62" r="1.6" fill="#07407a"/>
<circle cx="307.54" cy="195.96" r="1.6" fill="#07407a"/>
<circle cx="302.00" cy="193.42" r="1.6" fill="#07407a"/>
<circle cx="303.02" cy="198.29" r="1.6" fill="#07407a"/>
<line x1="225.70" y1="199.85" x2="332.00" y2="199.85" stroke="#141414" stroke-width="1.6" />
<line x1="255.80" y1="199.85" x2="255.80" y2="202.85" stroke="#141414" stroke-width="1.0" />
<text x="255.80" y="211.90" font-size="8.3" text-anchor="middle" fill="#1a1a1a" font-weight="normal" stroke="#1a1a1a" stroke-width="0.2" textLength="13.4" lengthAdjust="spacingAndGlyphs" >Ctrl</text>
<line x1="305.10" y1="199.85" x2="305.10" y2="202.85" stroke="#141414" stroke-width="1.0" />
<text x="305.10" y="211.90" font-size="8.3" text-anchor="middle" fill="#1a1a1a" font-weight="normal" stroke="#1a1a1a" stroke-width="0.2" textLength="14.6" lengthAdjust="spacingAndGlyphs" >MM</text>
<text x="199.10" y="109.85" font-size="9.6" text-anchor="middle" fill="#222" font-weight="normal" textLength="74.5" lengthAdjust="spacingAndGlyphs" transform="rotate(-90 199.10 109.85)" >WT neutralisation titer</text>
<text x="277.15" y="17.00" font-size="8.4" text-anchor="middle" fill="#1a1a1a" font-weight="normal" stroke="#1a1a1a" stroke-width="0.2" textLength="29.3" lengthAdjust="spacingAndGlyphs" >p&lt;0.001</text>
<line x1="258.20" y1="19.40" x2="296.60" y2="19.40" stroke="#2b2b2b" stroke-width="1.1" />
<text x="370.40" y="18.20" font-size="11.8" text-anchor="start" fill="#000" font-weight="bold" stroke="#000" stroke-width="0.25" >C</text>
<line x1="407.00" y1="20.04" x2="407.00" y2="199.70" stroke="#141414" stroke-width="1.6" />
<line x1="404.20" y1="183.53" x2="407.00" y2="183.53" stroke="#141414" stroke-width="0.9" />
<line x1="404.20" y1="166.73" x2="407.00" y2="166.73" stroke="#141414" stroke-width="0.9" />
<line x1="404.20" y1="149.93" x2="407.00" y2="149.93" stroke="#141414" stroke-width="0.9" />
<line x1="404.20" y1="133.14" x2="407.00" y2="133.14" stroke="#141414" stroke-width="0.9" />
<line x1="404.20" y1="116.34" x2="407.00" y2="116.34" stroke="#141414" stroke-width="0.9" />
<line x1="404.20" y1="99.54" x2="407.00" y2="99.54" stroke="#141414" stroke-width="0.9" />
<line x1="404.20" y1="82.74" x2="407.00" y2="82.74" stroke="#141414" stroke-width="0.9" />
<line x1="404.20" y1="65.95" x2="407.00" y2="65.95" stroke="#141414" stroke-width="0.9" />
<line x1="404.20" y1="49.15" x2="407.00" y2="49.15" stroke="#141414" stroke-width="0.9" />
<line x1="404.20" y1="32.35" x2="407.00" y2="32.35" stroke="#141414" stroke-width="0.9" />
<line x1="405.00" y1="199.00" x2="407.00" y2="199.00" stroke="#141414" stroke-width="0.8" />
<line x1="405.00" y1="197.87" x2="407.00" y2="197.87" stroke="#141414" stroke-width="0.8" />
<line x1="405.00" y1="196.90" x2="407.00" y2="196.90" stroke="#141414" stroke-width="0.8" />
<line x1="405.00" y1="196.04" x2="407.00" y2="196.04" stroke="#141414" stroke-width="0.8" />
<line x1="405.00" y1="190.21" x2="407.00" y2="190.21" stroke="#141414" stroke-width="0.8" />
<line x1="405.00" y1="187.26" x2="407.00" y2="187.26" stroke="#141414" stroke-width="0.8" />
<line x1="405.00" y1="185.16" x2="407.00" y2="185.16" stroke="#141414" stroke-width="0.8" />
<line x1="405.00" y1="182.20" x2="407.00" y2="182.20" stroke="#141414" stroke-width="0.8" />
<line x1="405.00" y1="181.07" x2="407.00" y2="181.07" stroke="#141414" stroke-width="0.8" />
<line x1="405.00" y1="180.10" x2="407.00" y2="180.10" stroke="#141414" stroke-width="0.8" />
<line x1="405.00" y1="179.24" x2="407.00" y2="179.24" stroke="#141414" stroke-width="0.8" />
<line x1="405.00" y1="173.42" x2="407.00" y2="173.42" stroke="#141414" stroke-width="0.8" />
<line x1="405.00" y1="170.46" x2="407.00" y2="170.46" stroke="#141414" stroke-width="0.8" />
<line x1="405.00" y1="168.36" x2="407.00" y2="168.36" stroke="#141414" stroke-width="0.8" />
<line x1="405.00" y1="165.40" x2="407.00" y2="165.40" stroke="#141414" stroke-width="0.8" />
<line x1="405.00" y1="164.28" x2="407.00" y2="164.28" stroke="#141414" stroke-width="0.8" />
<line x1="405.00" y1="163.30" x2="407.00" y2="163.30" stroke="#141414" stroke-width="0.8" />
<line x1="405.00" y1="162.44" x2="407.00" y2="162.44" stroke="#141414" stroke-width="0.8" />
<line x1="405.00" y1="156.62" x2="407.00" y2="156.62" stroke="#141414" stroke-width="0.8" />
<line x1="405.00" y1="153.66" x2="407.00" y2="153.66" stroke="#141414" stroke-width="0.8" />
<line x1="405.00" y1="151.56" x2="407.00" y2="151.56" stroke="#141414" stroke-width="0.8" />
<line x1="405.00" y1="148.60" x2="407.00" y2="148.60" stroke="#141414" stroke-width="0.8" />
<line x1="405.00" y1="147.48" x2="407.00" y2="147.48" stroke="#141414" stroke-width="0.8" />
<line x1="405.00" y1="146.51" x2="407.00" y2="146.51" stroke="#141414" stroke-width="0.8" />
<line x1="405.00" y1="145.65" x2="407.00" y2="145.65" stroke="#141414" stroke-width="0.8" />
<line x1="405.00" y1="139.82" x2="407.00" y2="139.82" stroke="#141414" stroke-width="0.8" />
<line x1="405.00" y1="136.86" x2="407.00" y2="136.86" stroke="#141414" stroke-width="0.8" />
<line x1="405.00" y1="134.76" x2="407.00" y2="134.76" stroke="#141414" stroke-width="0.8" />
<line x1="405.00" y1="131.81" x2="407.00" y2="131.81" stroke="#141414" stroke-width="0.8" />
<line x1="405.00" y1="130.68" x2="407.00" y2="130.68" stroke="#141414" stroke-width="0.8" />
<line x1="405.00" y1="129.71" x2="407.00" y2="129.71" stroke="#141414" stroke-width="0.8" />
<line x1="405.00" y1="128.85" x2="407.00" y2="128.85" stroke="#141414" stroke-width="0.8" />
<line x1="405.00" y1="123.02" x2="407.00" y2="123.02" stroke="#141414" stroke-width="0.8" />
<line x1="405.00" y1="120.07" x2="407.00" y2="120.07" stroke="#141414" stroke-width="0.8" />
<line x1="405.00" y1="117.97" x2="407.00" y2="117.97" stroke="#141414" stroke-width="0.8" />
<line x1="405.00" y1="115.01" x2="407.00" y2="115.01" stroke="#141414" stroke-width="0.8" />
<line x1="405.00" y1="113.88" x2="407.00" y2="113.88" stroke="#141414" stroke-width="0.8" />
<line x1="405.00" y1="112.91" x2="407.00" y2="112.91" stroke="#141414" stroke-width="0.8" />
<line x1="405.00" y1="112.05" x2="407.00" y2="112.05" stroke="#141414" stroke-width="0.8" />
<line x1="405.00" y1="106.23" x2="407.00" y2="106.23" stroke="#141414" stroke-width="0.8" />
<line x1="405.00" y1="103.27" x2="407.00" y2="103.27" stroke="#141414" stroke-width="0.8" />
<line x1="405.00" y1="101.17" x2="407.00" y2="101.17" stroke="#141414" stroke-width="0.8" />
<line x1="405.00" y1="98.21" x2="407.00" y2="98.21" stroke="#141414" stroke-width="0.8" />
<line x1="405.00" y1="97.09" x2="407.00" y2="97.09" stroke="#141414" stroke-width="0.8" />
<line x1="405.00" y1="96.11" x2="407.00" y2="96.11" stroke="#141414" stroke-width="0.8" />
<line x1="405.00" y1="95.25" x2="407.00" y2="95.25" stroke="#141414" stroke-width="0.8" />
<line x1="405.00" y1="89.43" x2="407.00" y2="89.43" stroke="#141414" stroke-width="0.8" />
<line x1="405.00" y1="86.47" x2="407.00" y2="86.47" stroke="#141414" stroke-width="0.8" />
<line x1="405.00" y1="84.37" x2="407.00" y2="84.37" stroke="#141414" stroke-width="0.8" />
<line x1="405.00" y1="81.41" x2="407.00" y2="81.41" stroke="#141414" stroke-width="0.8" />
<line x1="405.00" y1="80.29" x2="407.00" y2="80.29" stroke="#141414" stroke-width="0.8" />
<line x1="405.00" y1="79.32" x2="407.00" y2="79.32" stroke="#141414" stroke-width="0.8" />
<line x1="405.00" y1="78.46" x2="407.00" y2="78.46" stroke="#141414" stroke-width="0.8" />
<line x1="405.00" y1="72.63" x2="407.00" y2="72.63" stroke="#141414" stroke-width="0.8" />
<line x1="405.00" y1="69.67" x2="407.00" y2="69.67" stroke="#141414" stroke-width="0.8" />
<line x1="405.00" y1="67.57" x2="407.00" y2="67.57" stroke="#141414" stroke-width="0.8" />
<line x1="405.00" y1="64.62" x2="407.00" y2="64.62" stroke="#141414" stroke-width="0.8" />
<line x1="405.00" y1="63.49" x2="407.00" y2="63.49" stroke="#141414" stroke-width="0.8" />
<line x1="405.00" y1="62.52" x2="407.00" y2="62.52" stroke="#141414" stroke-width="0.8" />
<line x1="405.00" y1="61.66" x2="407.00" y2="61.66" stroke="#141414" stroke-width="0.8" />
<line x1="405.00" y1="55.83" x2="407.00" y2="55.83" stroke="#141414" stroke-width="0.8" />
<line x1="405.00" y1="52.88" x2="407.00" y2="52.88" stroke="#141414" stroke-width="0.8" />
<line x1="405.00" y1="50.78" x2="407.00" y2="50.78" stroke="#141414" stroke-width="0.8" />
<line x1="405.00" y1="47.82" x2="407.00" y2="47.82" stroke="#141414" stroke-width="0.8" />
<line x1="405.00" y1="46.69" x2="407.00" y2="46.69" stroke="#141414" stroke-width="0.8" />
<line x1="405.00" y1="45.72" x2="407.00" y2="45.72" stroke="#141414" stroke-width="0.8" />
<line x1="405.00" y1="44.86" x2="407.00" y2="44.86" stroke="#141414" stroke-width="0.8" />
<line x1="405.00" y1="39.04" x2="407.00" y2="39.04" stroke="#141414" stroke-width="0.8" />
<line x1="405.00" y1="36.08" x2="407.00" y2="36.08" stroke="#141414" stroke-width="0.8" />
<line x1="405.00" y1="33.98" x2="407.00" y2="33.98" stroke="#141414" stroke-width="0.8" />
<line x1="405.00" y1="31.02" x2="407.00" y2="31.02" stroke="#141414" stroke-width="0.8" />
<line x1="405.00" y1="29.90" x2="407.00" y2="29.90" stroke="#141414" stroke-width="0.8" />
<line x1="405.00" y1="28.92" x2="407.00" y2="28.92" stroke="#141414" stroke-width="0.8" />
<line x1="405.00" y1="28.06" x2="407.00" y2="28.06" stroke="#141414" stroke-width="0.8" />
<line x1="405.00" y1="22.24" x2="407.00" y2="22.24" stroke="#141414" stroke-width="0.8" />
<line x1="402.70" y1="195.27" x2="407.00" y2="195.27" stroke="#141414" stroke-width="1.0" />
<line x1="402.70" y1="178.47" x2="407.00" y2="178.47" stroke="#141414" stroke-width="1.0" />
<line x1="402.70" y1="161.68" x2="407.00" y2="161.68" stroke="#141414" stroke-width="1.0" />
<line x1="402.70" y1="144.88" x2="407.00" y2="144.88" stroke="#141414" stroke-width="1.0" />
<line x1="402.70" y1="128.08" x2="407.00" y2="128.08" stroke="#141414" stroke-width="1.0" />
<line x1="402.70" y1="111.28" x2="407.00" y2="111.28" stroke="#141414" stroke-width="1.0" />
<line x1="402.70" y1="94.49" x2="407.00" y2="94.49" stroke="#141414" stroke-width="1.0" />
<line x1="402.70" y1="77.69" x2="407.00" y2="77.69" stroke="#141414" stroke-width="1.0" />
<line x1="402.70" y1="60.89" x2="407.00" y2="60.89" stroke="#141414" stroke-width="1.0" />
<line x1="402.70" y1="44.09" x2="407.00" y2="44.09" stroke="#141414" stroke-width="1.0" />
<line x1="402.70" y1="27.30" x2="407.00" y2="27.30" stroke="#141414" stroke-width="1.0" />
<line x1="403.70" y1="21.89" x2="407.00" y2="21.89" stroke="#141414" stroke-width="1.0" />
<text x="401.60" y="24.69" font-size="9.2" text-anchor="end" fill="#1a1a1a" font-weight="normal" stroke="#1a1a1a" stroke-width="0.2" textLength="17.19" lengthAdjust="spacingAndGlyphs" >1280</text>
<line x1="403.70" y1="38.69" x2="407.00" y2="38.69" stroke="#141414" stroke-width="1.0" />
<text x="401.60" y="41.49" font-size="9.2" text-anchor="end" fill="#1a1a1a" font-weight="normal" stroke="#1a1a1a" stroke-width="0.2" textLength="12.89" lengthAdjust="spacingAndGlyphs" >640</text>
<line x1="403.70" y1="55.48" x2="407.00" y2="55.48" stroke="#141414" stroke-width="1.0" />
<text x="401.60" y="58.28" font-size="9.2" text-anchor="end" fill="#1a1a1a" font-weight="normal" stroke="#1a1a1a" stroke-width="0.2" textLength="12.89" lengthAdjust="spacingAndGlyphs" >320</text>
<line x1="403.70" y1="72.28" x2="407.00" y2="72.28" stroke="#141414" stroke-width="1.0" />
<text x="401.60" y="75.08" font-size="9.2" text-anchor="end" fill="#1a1a1a" font-weight="normal" stroke="#1a1a1a" stroke-width="0.2" textLength="12.89" lengthAdjust="spacingAndGlyphs" >160</text>
<line x1="403.70" y1="89.08" x2="407.00" y2="89.08" stroke="#141414" stroke-width="1.0" />
<text x="401.60" y="91.88" font-size="9.2" text-anchor="end" fill="#1a1a1a" font-weight="normal" stroke="#1a1a1a" stroke-width="0.2" textLength="8.59" lengthAdjust="spacingAndGlyphs" >80</text>
<line x1="403.70" y1="105.88" x2="407.00" y2="105.88" stroke="#141414" stroke-width="1.0" />
<text x="401.60" y="108.68" font-size="9.2" text-anchor="end" fill="#1a1a1a" font-weight="normal" stroke="#1a1a1a" stroke-width="0.2" textLength="8.59" lengthAdjust="spacingAndGlyphs" >40</text>
<line x1="403.70" y1="122.67" x2="407.00" y2="122.67" stroke="#141414" stroke-width="1.0" />
<text x="401.60" y="125.47" font-size="9.2" text-anchor="end" fill="#1a1a1a" font-weight="normal" stroke="#1a1a1a" stroke-width="0.2" textLength="8.59" lengthAdjust="spacingAndGlyphs" >20</text>
<line x1="403.70" y1="139.47" x2="407.00" y2="139.47" stroke="#141414" stroke-width="1.0" />
<text x="401.60" y="142.27" font-size="9.2" text-anchor="end" fill="#1a1a1a" font-weight="normal" stroke="#1a1a1a" stroke-width="0.2" textLength="8.59" lengthAdjust="spacingAndGlyphs" >10</text>
<line x1="403.70" y1="156.27" x2="407.00" y2="156.27" stroke="#141414" stroke-width="1.0" />
<text x="401.60" y="159.07" font-size="9.2" text-anchor="end" fill="#1a1a1a" font-weight="normal" stroke="#1a1a1a" stroke-width="0.2" textLength="4.3" lengthAdjust="spacingAndGlyphs" >5</text>
<line x1="403.70" y1="178.47" x2="407.00" y2="178.47" stroke="#141414" stroke-width="1.0" />
<text x="401.60" y="181.27" font-size="9.2" text-anchor="end" fill="#1a1a1a" font-weight="normal" stroke="#1a1a1a" stroke-width="0.2" textLength="4.3" lengthAdjust="spacingAndGlyphs" >2</text>
<line x1="403.70" y1="195.27" x2="407.00" y2="195.27" stroke="#141414" stroke-width="1.0" />
<text x="401.60" y="198.07" font-size="9.2" text-anchor="end" fill="#1a1a1a" font-weight="normal" stroke="#1a1a1a" stroke-width="0.2" textLength="4.3" lengthAdjust="spacingAndGlyphs" >1</text>
<line x1="436.60" y1="72.70" x2="436.60" y2="89.60" stroke="#c8102e" stroke-width="1.25" />
<line x1="436.60" y1="122.10" x2="436.60" y2="137.50" stroke="#c8102e" stroke-width="1.25" />
<rect x="418.40" y="89.60" width="36.20" height="32.50" fill="#e3919d" stroke="#c8102e" stroke-width="1.3"/>
<line x1="485.40" y1="40.10" x2="485.40" y2="106.30" stroke="#1d5a8e" stroke-width="1.25" />
<rect x="467.30" y="106.30" width="36.15" height="89.00" fill="#8aa9c5" stroke="#1d5a8e" stroke-width="1.3"/>
<line x1="407.80" y1="122.60" x2="512.50" y2="122.60" stroke="#5e5e5e" stroke-width="1.3" stroke-dasharray="3.9 2.30" stroke-dashoffset="2.95"/>
<clipPath id="cl3"><rect x="468.00" y="106.30" width="34.75" height="89.00"/></clipPath>
<line x1="407.80" y1="122.60" x2="512.50" y2="122.60" stroke="#6c655d" stroke-width="1.3" stroke-dasharray="3.9 2.30" stroke-dashoffset="2.95" clip-path="url(#cl3)"/>
<line x1="418.40" y1="105.70" x2="454.60" y2="105.70" stroke="#c00a2a" stroke-width="2.1" />
<line x1="467.30" y1="137.85" x2="503.45" y2="137.85" stroke="#084683" stroke-width="2.1" />
<circle cx="437.90" cy="69.40" r="1.6" fill="#c0062a"/>
<circle cx="437.90" cy="74.70" r="1.6" fill="#c0062a"/>
<circle cx="437.50" cy="91.70" r="1.6" fill="#c0062a"/>
<circle cx="439.50" cy="91.00" r="1.6" fill="#c0062a"/>
<circle cx="433.60" cy="108.70" r="1.6" fill="#c0062a"/>
<circle cx="439.50" cy="106.70" r="1.6" fill="#c0062a"/>
<circle cx="435.50" cy="120.50" r="1.6" fill="#c0062a"/>
<circle cx="437.80" cy="122.10" r="1.6" fill="#c0062a"/>
<circle cx="439.90" cy="119.90" r="1.6" fill="#c0062a"/>
<circle cx="443.70" cy="120.80" r="1.6" fill="#c0062a"/>
<circle cx="429.70" cy="137.80" r="1.6" fill="#c0062a"/>
<circle cx="440.10" cy="137.80" r="1.6" fill="#c0062a"/>
<circle cx="486.80" cy="37.70" r="1.6" fill="#07407a"/>
<circle cx="492.60" cy="37.70" r="1.6" fill="#07407a"/>
<circle cx="488.80" cy="53.20" r="1.6" fill="#07407a"/>
<circle cx="486.70" cy="54.50" r="1.6" fill="#07407a"/>
<circle cx="487.10" cy="56.40" r="1.6" fill="#07407a"/>
<circle cx="491.00" cy="57.50" r="1.6" fill="#07407a"/>
<circle cx="478.60" cy="70.90" r="1.6" fill="#07407a"/>
<circle cx="479.60" cy="74.40" r="1.6" fill="#07407a"/>
<circle cx="485.50" cy="71.10" r="1.6" fill="#07407a"/>
<circle cx="488.80" cy="74.40" r="1.6" fill="#07407a"/>
<circle cx="486.40" cy="87.90" r="1.6" fill="#07407a"/>
<circle cx="485.50" cy="91.20" r="1.6" fill="#07407a"/>
<circle cx="491.00" cy="89.20" r="1.6" fill="#07407a"/>
<circle cx="491.50" cy="102.90" r="1.6" fill="#07407a"/>
<circle cx="479.70" cy="106.70" r="1.6" fill="#07407a"/>
<circle cx="487.90" cy="108.50" r="1.6" fill="#07407a"/>
<circle cx="489.30" cy="107.20" r="1.6" fill="#07407a"/>
<circle cx="491.25" cy="108.20" r="1.6" fill="#07407a"/>
<circle cx="481.60" cy="120.20" r="1.6" fill="#07407a"/>
<circle cx="490.30" cy="119.20" r="1.6" fill="#07407a"/>
<circle cx="492.70" cy="120.40" r="1.6" fill="#07407a"/>
<circle cx="488.70" cy="121.90" r="1.6" fill="#07407a"/>
<circle cx="486.70" cy="123.60" r="1.6" fill="#07407a"/>
<circle cx="485.80" cy="125.20" r="1.6" fill="#07407a"/>
<circle cx="487.40" cy="135.10" r="1.6" fill="#07407a"/>
<circle cx="478.75" cy="139.40" r="1.6" fill="#07407a"/>
<circle cx="479.70" cy="140.90" r="1.6" fill="#07407a"/>
<circle cx="487.40" cy="139.20" r="1.6" fill="#07407a"/>
<circle cx="487.70" cy="140.90" r="1.6" fill="#07407a"/>
<circle cx="478.40" cy="192.90" r="1.6" fill="#07407a"/>
<circle cx="484.80" cy="192.90" r="1.6" fill="#07407a"/>
<circle cx="490.80" cy="193.20" r="1.6" fill="#07407a"/>
<circle cx="491.79" cy="198.18" r="1.6" fill="#07407a"/>
<circle cx="479.38" cy="194.56" r="1.6" fill="#07407a"/>
<circle cx="490.13" cy="197.29" r="1.6" fill="#07407a"/>
<circle cx="487.84" cy="195.49" r="1.6" fill="#07407a"/>
<circle cx="486.96" cy="196.75" r="1.6" fill="#07407a"/>
<circle cx="486.62" cy="194.87" r="1.6" fill="#07407a"/>
<circle cx="484.54" cy="195.85" r="1.6" fill="#07407a"/>
<circle cx="488.58" cy="198.38" r="1.6" fill="#07407a"/>
<circle cx="491.70" cy="196.49" r="1.6" fill="#07407a"/>
<circle cx="484.74" cy="195.33" r="1.6" fill="#07407a"/>
<circle cx="479.10" cy="194.32" r="1.6" fill="#07407a"/>
<circle cx="485.02" cy="195.54" r="1.6" fill="#07407a"/>
<circle cx="483.84" cy="197.95" r="1.6" fill="#07407a"/>
<circle cx="485.86" cy="196.55" r="1.6" fill="#07407a"/>
<circle cx="481.86" cy="194.30" r="1.6" fill="#07407a"/>
<circle cx="483.09" cy="194.77" r="1.6" fill="#07407a"/>
<circle cx="485.64" cy="198.39" r="1.6" fill="#07407a"/>
<circle cx="487.91" cy="194.96" r="1.6" fill="#07407a"/>
<circle cx="490.93" cy="197.55" r="1.6" fill="#07407a"/>
<circle cx="488.73" cy="198.01" r="1.6" fill="#07407a"/>
<circle cx="489.13" cy="197.52" r="1.6" fill="#07407a"/>
<circle cx="483.48" cy="198.32" r="1.6" fill="#07407a"/>
<circle cx="491.87" cy="194.88" r="1.6" fill="#07407a"/>
<circle cx="489.01" cy="197.20" r="1.6" fill="#07407a"/>
<circle cx="484.97" cy="196.43" r="1.6" fill="#07407a"/>
<circle cx="485.36" cy="198.08" r="1.6" fill="#07407a"/>
<circle cx="485.51" cy="197.69" r="1.6" fill="#07407a"/>
<circle cx="483.48" cy="197.91" r="1.6" fill="#07407a"/>
<circle cx="491.02" cy="196.14" r="1.6" fill="#07407a"/>
<circle cx="486.43" cy="198.07" r="1.6" fill="#07407a"/>
<circle cx="488.59" cy="196.24" r="1.6" fill="#07407a"/>
<circle cx="481.66" cy="195.56" r="1.6" fill="#07407a"/>
<circle cx="488.25" cy="194.90" r="1.6" fill="#07407a"/>
<circle cx="491.13" cy="195.33" r="1.6" fill="#07407a"/>
<line x1="406.20" y1="199.70" x2="512.50" y2="199.70" stroke="#141414" stroke-width="1.6" />
<line x1="436.60" y1="199.70" x2="436.60" y2="202.70" stroke="#141414" stroke-width="1.0" />
<text x="436.60" y="211.90" font-size="8.3" text-anchor="middle" fill="#1a1a1a" font-weight="normal" stroke="#1a1a1a" stroke-width="0.2" textLength="13.4" lengthAdjust="spacingAndGlyphs" >Ctrl</text>
<line x1="485.50" y1="199.70" x2="485.50" y2="202.70" stroke="#141414" stroke-width="1.0" />
<text x="485.50" y="211.90" font-size="8.3" text-anchor="middle" fill="#1a1a1a" font-weight="normal" stroke="#1a1a1a" stroke-width="0.2" textLength="14.6" lengthAdjust="spacingAndGlyphs" >MM</text>
<text x="379.00" y="109.30" font-size="9.6" text-anchor="middle" fill="#222" font-weight="normal" textLength="86.6" lengthAdjust="spacingAndGlyphs" transform="rotate(-90 379.00 109.30)" >B.1.1.7 neutralisation titer</text>
<text x="455.85" y="17.00" font-size="8.4" text-anchor="middle" fill="#1a1a1a" font-weight="normal" stroke="#1a1a1a" stroke-width="0.2" textLength="30.1" lengthAdjust="spacingAndGlyphs" >p = 0.02</text>
<line x1="436.90" y1="19.40" x2="475.00" y2="19.40" stroke="#2b2b2b" stroke-width="1.1" />
<text x="6.20" y="239.20" font-size="11.8" text-anchor="start" fill="#000" font-weight="bold" stroke="#000" stroke-width="0.25" >D</text>
<line x1="48.80" y1="258.04" x2="48.80" y2="437.45" stroke="#141414" stroke-width="1.6" />
<line x1="46.00" y1="421.13" x2="48.80" y2="421.13" stroke="#141414" stroke-width="0.9" />
<line x1="46.00" y1="404.33" x2="48.80" y2="404.33" stroke="#141414" stroke-width="0.9" />
<line x1="46.00" y1="387.53" x2="48.80" y2="387.53" stroke="#141414" stroke-width="0.9" />
<line x1="46.00" y1="370.74" x2="48.80" y2="370.74" stroke="#141414" stroke-width="0.9" />
<line x1="46.00" y1="353.94" x2="48.80" y2="353.94" stroke="#141414" stroke-width="0.9" />
<line x1="46.00" y1="337.14" x2="48.80" y2="337.14" stroke="#141414" stroke-width="0.9" />
<line x1="46.00" y1="320.34" x2="48.80" y2="320.34" stroke="#141414" stroke-width="0.9" />
<line x1="46.00" y1="303.55" x2="48.80" y2="303.55" stroke="#141414" stroke-width="0.9" />
<line x1="46.00" y1="286.75" x2="48.80" y2="286.75" stroke="#141414" stroke-width="0.9" />
<line x1="46.00" y1="269.95" x2="48.80" y2="269.95" stroke="#141414" stroke-width="0.9" />
<line x1="46.80" y1="436.60" x2="48.80" y2="436.60" stroke="#141414" stroke-width="0.8" />
<line x1="46.80" y1="435.47" x2="48.80" y2="435.47" stroke="#141414" stroke-width="0.8" />
<line x1="46.80" y1="434.50" x2="48.80" y2="434.50" stroke="#141414" stroke-width="0.8" />
<line x1="46.80" y1="433.64" x2="48.80" y2="433.64" stroke="#141414" stroke-width="0.8" />
<line x1="46.80" y1="427.81" x2="48.80" y2="427.81" stroke="#141414" stroke-width="0.8" />
<line x1="46.80" y1="424.86" x2="48.80" y2="424.86" stroke="#141414" stroke-width="0.8" />
<line x1="46.80" y1="422.76" x2="48.80" y2="422.76" stroke="#141414" stroke-width="0.8" />
<line x1="46.80" y1="419.80" x2="48.80" y2="419.80" stroke="#141414" stroke-width="0.8" />
<line x1="46.80" y1="418.67" x2="48.80" y2="418.67" stroke="#141414" stroke-width="0.8" />
<line x1="46.80" y1="417.70" x2="48.80" y2="417.70" stroke="#141414" stroke-width="0.8" />
<line x1="46.80" y1="416.84" x2="48.80" y2="416.84" stroke="#141414" stroke-width="0.8" />
<line x1="46.80" y1="411.02" x2="48.80" y2="411.02" stroke="#141414" stroke-width="0.8" />
<line x1="46.80" y1="408.06" x2="48.80" y2="408.06" stroke="#141414" stroke-width="0.8" />
<line x1="46.80" y1="405.96" x2="48.80" y2="405.96" stroke="#141414" stroke-width="0.8" />
<line x1="46.80" y1="403.00" x2="48.80" y2="403.00" stroke="#141414" stroke-width="0.8" />
<line x1="46.80" y1="401.88" x2="48.80" y2="401.88" stroke="#141414" stroke-width="0.8" />
<line x1="46.80" y1="400.90" x2="48.80" y2="400.90" stroke="#141414" stroke-width="0.8" />
<line x1="46.80" y1="400.04" x2="48.80" y2="400.04" stroke="#141414" stroke-width="0.8" />
<line x1="46.80" y1="394.22" x2="48.80" y2="394.22" stroke="#141414" stroke-width="0.8" />
<line x1="46.80" y1="391.26" x2="48.80" y2="391.26" stroke="#141414" stroke-width="0.8" />
<line x1="46.80" y1="389.16" x2="48.80" y2="389.16" stroke="#141414" stroke-width="0.8" />
<line x1="46.80" y1="386.20" x2="48.80" y2="386.20" stroke="#141414" stroke-width="0.8" />
<line x1="46.80" y1="385.08" x2="48.80" y2="385.08" stroke="#141414" stroke-width="0.8" />
<line x1="46.80" y1="384.11" x2="48.80" y2="384.11" stroke="#141414" stroke-width="0.8" />
<line x1="46.80" y1="383.25" x2="48.80" y2="383.25" stroke="#141414" stroke-width="0.8" />
<line x1="46.80" y1="377.42" x2="48.80" y2="377.42" stroke="#141414" stroke-width="0.8" />
<line x1="46.80" y1="374.46" x2="48.80" y2="374.46" stroke="#141414" stroke-width="0.8" />
<line x1="46.80" y1="372.36" x2="48.80" y2="372.36" stroke="#141414" stroke-width="0.8" />
<line x1="46.80" y1="369.41" x2="48.80" y2="369.41" stroke="#141414" stroke-width="0.8" />
<line x1="46.80" y1="368.28" x2="48.80" y2="368.28" stroke="#141414" stroke-width="0.8" />
<line x1="46.80" y1="367.31" x2="48.80" y2="367.31" stroke="#141414" stroke-width="0.8" />
<line x1="46.80" y1="366.45" x2="48.80" y2="366.45" stroke="#141414" stroke-width="0.8" />
<line x1="46.80" y1="360.62" x2="48.80" y2="360.62" stroke="#141414" stroke-width="0.8" />
<line x1="46.80" y1="357.67" x2="48.80" y2="357.67" stroke="#141414" stroke-width="0.8" />
<line x1="46.80" y1="355.57" x2="48.80" y2="355.57" stroke="#141414" stroke-width="0.8" />
<line x1="46.80" y1="352.61" x2="48.80" y2="352.61" stroke="#141414" stroke-width="0.8" />
<line x1="46.80" y1="351.48" x2="48.80" y2="351.48" stroke="#141414" stroke-width="0.8" />
<line x1="46.80" y1="350.51" x2="48.80" y2="350.51" stroke="#141414" stroke-width="0.8" />
<line x1="46.80" y1="349.65" x2="48.80" y2="349.65" stroke="#141414" stroke-width="0.8" />
<line x1="46.80" y1="343.83" x2="48.80" y2="343.83" stroke="#141414" stroke-width="0.8" />
<line x1="46.80" y1="340.87" x2="48.80" y2="340.87" stroke="#141414" stroke-width="0.8" />
<line x1="46.80" y1="338.77" x2="48.80" y2="338.77" stroke="#141414" stroke-width="0.8" />
<line x1="46.80" y1="335.81" x2="48.80" y2="335.81" stroke="#141414" stroke-width="0.8" />
<line x1="46.80" y1="334.69" x2="48.80" y2="334.69" stroke="#141414" stroke-width="0.8" />
<line x1="46.80" y1="333.71" x2="48.80" y2="333.71" stroke="#141414" stroke-width="0.8" />
<line x1="46.80" y1="332.85" x2="48.80" y2="332.85" stroke="#141414" stroke-width="0.8" />
<line x1="46.80" y1="327.03" x2="48.80" y2="327.03" stroke="#141414" stroke-width="0.8" />
<line x1="46.80" y1="324.07" x2="48.80" y2="324.07" stroke="#141414" stroke-width="0.8" />
<line x1="46.80" y1="321.97" x2="48.80" y2="321.97" stroke="#141414" stroke-width="0.8" />
<line x1="46.80" y1="319.01" x2="48.80" y2="319.01" stroke="#141414" stroke-width="0.8" />
<line x1="46.80" y1="317.89" x2="48.80" y2="317.89" stroke="#141414" stroke-width="0.8" />
<line x1="46.80" y1="316.92" x2="48.80" y2="316.92" stroke="#141414" stroke-width="0.8" />
<line x1="46.80" y1="316.06" x2="48.80" y2="316.06" stroke="#141414" stroke-width="0.8" />
<line x1="46.80" y1="310.23" x2="48.80" y2="310.23" stroke="#141414" stroke-width="0.8" />
<line x1="46.80" y1="307.27" x2="48.80" y2="307.27" stroke="#141414" stroke-width="0.8" />
<line x1="46.80" y1="305.17" x2="48.80" y2="305.17" stroke="#141414" stroke-width="0.8" />
<line x1="46.80" y1="302.22" x2="48.80" y2="302.22" stroke="#141414" stroke-width="0.8" />
<line x1="46.80" y1="301.09" x2="48.80" y2="301.09" stroke="#141414" stroke-width="0.8" />
<line x1="46.80" y1="300.12" x2="48.80" y2="300.12" stroke="#141414" stroke-width="0.8" />
<line x1="46.80" y1="299.26" x2="48.80" y2="299.26" stroke="#141414" stroke-width="0.8" />
<line x1="46.80" y1="293.43" x2="48.80" y2="293.43" stroke="#141414" stroke-width="0.8" />
<line x1="46.80" y1="290.48" x2="48.80" y2="290.48" stroke="#141414" stroke-width="0.8" />
<line x1="46.80" y1="288.38" x2="48.80" y2="288.38" stroke="#141414" stroke-width="0.8" />
<line x1="46.80" y1="285.42" x2="48.80" y2="285.42" stroke="#141414" stroke-width="0.8" />
<line x1="46.80" y1="284.29" x2="48.80" y2="284.29" stroke="#141414" stroke-width="0.8" />
<line x1="46.80" y1="283.32" x2="48.80" y2="283.32" stroke="#141414" stroke-width="0.8" />
<line x1="46.80" y1="282.46" x2="48.80" y2="282.46" stroke="#141414" stroke-width="0.8" />
<line x1="46.80" y1="276.64" x2="48.80" y2="276.64" stroke="#141414" stroke-width="0.8" />
<line x1="46.80" y1="273.68" x2="48.80" y2="273.68" stroke="#141414" stroke-width="0.8" />
<line x1="46.80" y1="271.58" x2="48.80" y2="271.58" stroke="#141414" stroke-width="0.8" />
<line x1="46.80" y1="268.62" x2="48.80" y2="268.62" stroke="#141414" stroke-width="0.8" />
<line x1="46.80" y1="267.50" x2="48.80" y2="267.50" stroke="#141414" stroke-width="0.8" />
<line x1="46.80" y1="266.52" x2="48.80" y2="266.52" stroke="#141414" stroke-width="0.8" />
<line x1="46.80" y1="265.66" x2="48.80" y2="265.66" stroke="#141414" stroke-width="0.8" />
<line x1="46.80" y1="259.84" x2="48.80" y2="259.84" stroke="#141414" stroke-width="0.8" />
<line x1="44.50" y1="432.87" x2="48.80" y2="432.87" stroke="#141414" stroke-width="1.0" />
<line x1="44.50" y1="416.07" x2="48.80" y2="416.07" stroke="#141414" stroke-width="1.0" />
<line x1="44.50" y1="399.28" x2="48.80" y2="399.28" stroke="#141414" stroke-width="1.0" />
<line x1="44.50" y1="382.48" x2="48.80" y2="382.48" stroke="#141414" stroke-width="1.0" />
<line x1="44.50" y1="365.68" x2="48.80" y2="365.68" stroke="#141414" stroke-width="1.0" />
<line x1="44.50" y1="348.88" x2="48.80" y2="348.88" stroke="#141414" stroke-width="1.0" />
<line x1="44.50" y1="332.09" x2="48.80" y2="332.09" stroke="#141414" stroke-width="1.0" />
<line x1="44.50" y1="315.29" x2="48.80" y2="315.29" stroke="#141414" stroke-width="1.0" />
<line x1="44.50" y1="298.49" x2="48.80" y2="298.49" stroke="#141414" stroke-width="1.0" />
<line x1="44.50" y1="281.69" x2="48.80" y2="281.69" stroke="#141414" stroke-width="1.0" />
<line x1="44.50" y1="264.90" x2="48.80" y2="264.90" stroke="#141414" stroke-width="1.0" />
<line x1="45.50" y1="259.49" x2="48.80" y2="259.49" stroke="#141414" stroke-width="1.0" />
<text x="41.60" y="262.29" font-size="9.2" text-anchor="end" fill="#1a1a1a" font-weight="normal" stroke="#1a1a1a" stroke-width="0.2" textLength="17.19" lengthAdjust="spacingAndGlyphs" >1280</text>
<line x1="45.50" y1="276.29" x2="48.80" y2="276.29" stroke="#141414" stroke-width="1.0" />
<text x="41.60" y="279.09" font-size="9.2" text-anchor="end" fill="#1a1a1a" font-weight="normal" stroke="#1a1a1a" stroke-width="0.2" textLength="12.89" lengthAdjust="spacingAndGlyphs" >640</text>
<line x1="45.50" y1="293.08" x2="48.80" y2="293.08" stroke="#141414" stroke-width="1.0" />
<text x="41.60" y="295.88" font-size="9.2" text-anchor="end" fill="#1a1a1a" font-weight="normal" stroke="#1a1a1a" stroke-width="0.2" textLength="12.89" lengthAdjust="spacingAndGlyphs" >320</text>
<line x1="45.50" y1="309.88" x2="48.80" y2="309.88" stroke="#141414" stroke-width="1.0" />
<text x="41.60" y="312.68" font-size="9.2" text-anchor="end" fill="#1a1a1a" font-weight="normal" stroke="#1a1a1a" stroke-width="0.2" textLength="12.89" lengthAdjust="spacingAndGlyphs" >160</text>
<line x1="45.50" y1="326.68" x2="48.80" y2="326.68" stroke="#141414" stroke-width="1.0" />
<text x="41.60" y="329.48" font-size="9.2" text-anchor="end" fill="#1a1a1a" font-weight="normal" stroke="#1a1a1a" stroke-width="0.2" textLength="8.59" lengthAdjust="spacingAndGlyphs" >80</text>
<line x1="45.50" y1="343.48" x2="48.80" y2="343.48" stroke="#141414" stroke-width="1.0" />
<text x="41.60" y="346.28" font-size="9.2" text-anchor="end" fill="#1a1a1a" font-weight="normal" stroke="#1a1a1a" stroke-width="0.2" textLength="8.59" lengthAdjust="spacingAndGlyphs" >40</text>
<line x1="45.50" y1="360.27" x2="48.80" y2="360.27" stroke="#141414" stroke-width="1.0" />
<text x="41.60" y="363.07" font-size="9.2" text-anchor="end" fill="#1a1a1a" font-weight="normal" stroke="#1a1a1a" stroke-width="0.2" textLength="8.59" lengthAdjust="spacingAndGlyphs" >20</text>
<line x1="45.50" y1="377.07" x2="48.80" y2="377.07" stroke="#141414" stroke-width="1.0" />
<text x="41.60" y="379.87" font-size="9.2" text-anchor="end" fill="#1a1a1a" font-weight="normal" stroke="#1a1a1a" stroke-width="0.2" textLength="8.59" lengthAdjust="spacingAndGlyphs" >10</text>
<line x1="45.50" y1="393.87" x2="48.80" y2="393.87" stroke="#141414" stroke-width="1.0" />
<text x="41.60" y="396.67" font-size="9.2" text-anchor="end" fill="#1a1a1a" font-weight="normal" stroke="#1a1a1a" stroke-width="0.2" textLength="4.3" lengthAdjust="spacingAndGlyphs" >5</text>
<line x1="45.50" y1="416.07" x2="48.80" y2="416.07" stroke="#141414" stroke-width="1.0" />
<text x="41.60" y="418.87" font-size="9.2" text-anchor="end" fill="#1a1a1a" font-weight="normal" stroke="#1a1a1a" stroke-width="0.2" textLength="4.3" lengthAdjust="spacingAndGlyphs" >2</text>
<line x1="45.50" y1="432.87" x2="48.80" y2="432.87" stroke="#141414" stroke-width="1.0" />
<text x="41.60" y="435.67" font-size="9.2" text-anchor="end" fill="#1a1a1a" font-weight="normal" stroke="#1a1a1a" stroke-width="0.2" textLength="4.3" lengthAdjust="spacingAndGlyphs" >1</text>
<line x1="73.10" y1="278.10" x2="73.10" y2="310.20" stroke="#c8102e" stroke-width="1.25" />
<line x1="73.10" y1="345.80" x2="73.10" y2="361.00" stroke="#c8102e" stroke-width="1.25" />
<rect x="58.00" y="310.20" width="29.70" height="35.60" fill="#e3919d" stroke="#c8102e" stroke-width="1.3"/>
<line x1="113.20" y1="259.70" x2="113.20" y2="310.20" stroke="#1d5a8e" stroke-width="1.25" />
<line x1="113.20" y1="374.10" x2="113.20" y2="432.60" stroke="#1d5a8e" stroke-width="1.25" />
<rect x="98.60" y="310.20" width="29.70" height="63.90" fill="#8aa9c5" stroke="#1d5a8e" stroke-width="1.3"/>
<line x1="153.60" y1="276.00" x2="153.60" y2="359.60" stroke="#1d5a8e" stroke-width="1.25" />
<rect x="138.70" y="359.60" width="29.60" height="72.80" fill="#8aa9c5" stroke="#1d5a8e" stroke-width="1.3"/>
<line x1="193.60" y1="276.30" x2="193.60" y2="326.60" stroke="#1d5a8e" stroke-width="1.25" />
<rect x="178.55" y="326.60" width="29.80" height="105.90" fill="#8aa9c5" stroke="#1d5a8e" stroke-width="1.3"/>
<line x1="49.70" y1="360.40" x2="217.40" y2="360.40" stroke="#5e5e5e" stroke-width="1.3" stroke-dasharray="3.95 2.35" stroke-dashoffset="3.20"/>
<clipPath id="cl4"><rect x="99.30" y="310.20" width="28.30" height="63.90"/><rect x="139.40" y="359.60" width="28.20" height="72.80"/><rect x="179.25" y="326.60" width="28.40" height="105.90"/></clipPath>
<line x1="49.70" y1="360.40" x2="217.40" y2="360.40" stroke="#6c655d" stroke-width="1.3" stroke-dasharray="3.95 2.35" stroke-dashoffset="3.20" clip-path="url(#cl4)"/>
<line x1="58.00" y1="326.80" x2="87.70" y2="326.80" stroke="#c00a2a" stroke-width="2.1" />
<line x1="98.60" y1="351.10" x2="128.30" y2="351.10" stroke="#084683" stroke-width="2.1" />
<line x1="138.70" y1="432.20" x2="168.30" y2="432.20" stroke="#084683" stroke-width="2.1" />
<line x1="178.55" y1="359.50" x2="208.35" y2="359.50" stroke="#084683" stroke-width="2.1" />
<circle cx="73.40" cy="278.40" r="1.6" fill="#c0062a"/>
<circle cx="75.80" cy="289.90" r="1.6" fill="#c0062a"/>
<circle cx="70.50" cy="293.90" r="1.6" fill="#c0062a"/>
<circle cx="73.10" cy="307.30" r="1.6" fill="#c0062a"/>
<circle cx="69.20" cy="312.70" r="1.6" fill="#c0062a"/>
<circle cx="73.80" cy="311.60" r="1.6" fill="#c0062a"/>
<circle cx="68.50" cy="325.80" r="1.6" fill="#c0062a"/>
<circle cx="71.20" cy="327.30" r="1.6" fill="#c0062a"/>
<circle cx="74.30" cy="324.20" r="1.6" fill="#c0062a"/>
<circle cx="75.40" cy="329.30" r="1.6" fill="#c0062a"/>
<circle cx="66.90" cy="345.00" r="1.6" fill="#c0062a"/>
<circle cx="68.80" cy="344.60" r="1.6" fill="#c0062a"/>
<circle cx="73.80" cy="345.00" r="1.6" fill="#c0062a"/>
<circle cx="68.10" cy="355.90" r="1.6" fill="#c0062a"/>
<circle cx="72.10" cy="356.20" r="1.6" fill="#c0062a"/>
<circle cx="73.80" cy="360.80" r="1.6" fill="#c0062a"/>
<circle cx="75.40" cy="361.50" r="1.6" fill="#c0062a"/>
<circle cx="76.90" cy="361.20" r="1.6" fill="#c0062a"/>
<circle cx="74.60" cy="362.30" r="1.6" fill="#c0062a"/>
<circle cx="117.90" cy="260.30" r="1.6" fill="#07407a"/>
<circle cx="108.10" cy="275.40" r="1.6" fill="#07407a"/>
<circle cx="114.20" cy="275.80" r="1.6" fill="#07407a"/>
<circle cx="118.50" cy="293.10" r="1.6" fill="#07407a"/>
<circle cx="116.20" cy="306.80" r="1.6" fill="#07407a"/>
<circle cx="112.90" cy="308.10" r="1.6" fill="#07407a"/>
<circle cx="118.80" cy="324.70" r="1.6" fill="#07407a"/>
<circle cx="113.20" cy="340.90" r="1.6" fill="#07407a"/>
<circle cx="116.00" cy="339.60" r="1.6" fill="#07407a"/>
<circle cx="118.00" cy="344.10" r="1.6" fill="#07407a"/>
<circle cx="107.30" cy="356.00" r="1.6" fill="#07407a"/>
<circle cx="108.90" cy="357.60" r="1.6" fill="#07407a"/>
<circle cx="112.40" cy="360.40" r="1.6" fill="#07407a"/>
<circle cx="116.40" cy="360.40" r="1.6" fill="#07407a"/>
<circle cx="118.50" cy="360.40" r="1.6" fill="#07407a"/>
<circle cx="113.20" cy="376.20" r="1.6" fill="#07407a"/>
<circle cx="116.40" cy="377.60" r="1.6" fill="#07407a"/>
<circle cx="110.50" cy="432.00" r="1.6" fill="#07407a"/>
<circle cx="109.00" cy="434.00" r="1.6" fill="#07407a"/>
<circle cx="111.00" cy="436.00" r="1.6" fill="#07407a"/>
<circle cx="119.00" cy="432.50" r="1.6" fill="#07407a"/>
<circle cx="118.00" cy="434.25" r="1.6" fill="#07407a"/>
<circle cx="149.20" cy="278.75" r="1.6" fill="#07407a"/>
<circle cx="155.30" cy="341.40" r="1.6" fill="#07407a"/>
<circle cx="158.80" cy="342.10" r="1.6" fill="#07407a"/>
<circle cx="158.50" cy="344.60" r="1.6" fill="#07407a"/>
<circle cx="153.60" cy="346.20" r="1.6" fill="#07407a"/>
<circle cx="150.00" cy="357.00" r="1.6" fill="#07407a"/>
<circle cx="156.40" cy="358.10" r="1.6" fill="#07407a"/>
<circle cx="152.50" cy="371.60" r="1.6" fill="#07407a"/>
<circle cx="148.00" cy="434.50" r="1.6" fill="#07407a"/>
<circle cx="149.50" cy="432.00" r="1.6" fill="#07407a"/>
<circle cx="151.00" cy="430.00" r="1.6" fill="#07407a"/>
<circle cx="152.50" cy="429.50" r="1.6" fill="#07407a"/>
<circle cx="154.00" cy="430.50" r="1.6" fill="#07407a"/>
<circle cx="155.50" cy="432.00" r="1.6" fill="#07407a"/>
<circle cx="157.00" cy="433.50" r="1.6" fill="#07407a"/>
<circle cx="158.00" cy="435.50" r="1.6" fill="#07407a"/>
<circle cx="147.50" cy="436.00" r="1.6" fill="#07407a"/>
<circle cx="149.50" cy="435.50" r="1.6" fill="#07407a"/>
<circle cx="150.50" cy="433.50" r="1.6" fill="#07407a"/>
<circle cx="153.00" cy="432.50" r="1.6" fill="#07407a"/>
<circle cx="154.50" cy="433.00" r="1.6" fill="#07407a"/>
<circle cx="156.50" cy="435.00" r="1.6" fill="#07407a"/>
<circle cx="152.00" cy="431.00" r="1.6" fill="#07407a"/>
<circle cx="150.00" cy="431.50" r="1.6" fill="#07407a"/>
<circle cx="155.00" cy="431.00" r="1.6" fill="#07407a"/>
<circle cx="189.20" cy="276.20" r="1.6" fill="#07407a"/>
<circle cx="192.90" cy="308.00" r="1.6" fill="#07407a"/>
<circle cx="189.60" cy="326.00" r="1.6" fill="#07407a"/>
<circle cx="190.90" cy="327.30" r="1.6" fill="#07407a"/>
<circle cx="193.30" cy="323.40" r="1.6" fill="#07407a"/>
<circle cx="198.10" cy="325.00" r="1.6" fill="#07407a"/>
<circle cx="198.50" cy="328.20" r="1.6" fill="#07407a"/>
<circle cx="196.20" cy="341.70" r="1.6" fill="#07407a"/>
<circle cx="199.50" cy="342.30" r="1.6" fill="#07407a"/>
<circle cx="194.00" cy="355.70" r="1.6" fill="#07407a"/>
<circle cx="190.90" cy="361.50" r="1.6" fill="#07407a"/>
<circle cx="190.30" cy="376.80" r="1.6" fill="#07407a"/>
<circle cx="193.60" cy="377.50" r="1.6" fill="#07407a"/>
<circle cx="188.60" cy="431.00" r="1.6" fill="#07407a"/>
<circle cx="190.00" cy="429.80" r="1.6" fill="#07407a"/>
<circle cx="191.50" cy="429.30" r="1.6" fill="#07407a"/>
<circle cx="193.00" cy="429.40" r="1.6" fill="#07407a"/>
<circle cx="194.50" cy="430.00" r="1.6" fill="#07407a"/>
<circle cx="195.70" cy="431.00" r="1.6" fill="#07407a"/>
<circle cx="189.50" cy="431.20" r="1.6" fill="#07407a"/>
<circle cx="192.00" cy="430.60" r="1.6" fill="#07407a"/>
<circle cx="189.50" cy="435.10" r="1.6" fill="#07407a"/>
<circle cx="199.50" cy="435.20" r="1.6" fill="#07407a"/>
<circle cx="199.40" cy="436.60" r="1.6" fill="#07407a"/>
<line x1="48.00" y1="437.45" x2="217.40" y2="437.45" stroke="#141414" stroke-width="1.6" />
<line x1="73.00" y1="437.45" x2="73.00" y2="440.45" stroke="#141414" stroke-width="1.0" />
<text x="73.00" y="449.80" font-size="8.3" text-anchor="middle" fill="#1a1a1a" font-weight="normal" stroke="#1a1a1a" stroke-width="0.2" textLength="13.4" lengthAdjust="spacingAndGlyphs" >Ctrl</text>
<line x1="113.10" y1="437.45" x2="113.10" y2="440.45" stroke="#141414" stroke-width="1.0" />
<text x="113.10" y="449.80" font-size="8.3" text-anchor="middle" fill="#1a1a1a" font-weight="normal" stroke="#1a1a1a" stroke-width="0.2" textLength="19.2" lengthAdjust="spacingAndGlyphs" >None</text>
<line x1="153.60" y1="437.45" x2="153.60" y2="440.45" stroke="#141414" stroke-width="1.0" />
<text x="153.60" y="449.80" font-size="8.3" text-anchor="middle" fill="#1a1a1a" font-weight="normal" stroke="#1a1a1a" stroke-width="0.2" textLength="29.6" lengthAdjust="spacingAndGlyphs" >Therapy</text>
<line x1="193.60" y1="437.45" x2="193.60" y2="440.45" stroke="#141414" stroke-width="1.0" />
<text x="193.60" y="449.80" font-size="8.3" text-anchor="middle" fill="#1a1a1a" font-weight="normal" stroke="#1a1a1a" stroke-width="0.2" textLength="22.6" lengthAdjust="spacingAndGlyphs" >Maint.</text>
<text x="19.30" y="347.45" font-size="9.6" text-anchor="middle" fill="#222" font-weight="normal" textLength="74.0" lengthAdjust="spacingAndGlyphs" transform="rotate(-90 19.30 347.45)" >WT neutralisation titer</text>
<text x="92.20" y="251.80" font-size="8.4" text-anchor="middle" fill="#1a1a1a" font-weight="normal" stroke="#1a1a1a" stroke-width="0.2" textLength="30.4" lengthAdjust="spacingAndGlyphs" >p = 0.12</text>
<line x1="73.00" y1="254.50" x2="111.00" y2="254.50" stroke="#2b2b2b" stroke-width="1.1" />
<text x="131.85" y="251.80" font-size="8.4" text-anchor="middle" fill="#1a1a1a" font-weight="normal" stroke="#1a1a1a" stroke-width="0.2" textLength="30.1" lengthAdjust="spacingAndGlyphs" >p&lt;0.001</text>
<line x1="112.90" y1="254.50" x2="150.70" y2="254.50" stroke="#2b2b2b" stroke-width="1.1" />
<text x="174.60" y="251.80" font-size="8.4" text-anchor="middle" fill="#1a1a1a" font-weight="normal" stroke="#1a1a1a" stroke-width="0.2" textLength="30.0" lengthAdjust="spacingAndGlyphs" >p = 0.02</text>
<line x1="155.90" y1="254.50" x2="193.70" y2="254.50" stroke="#2b2b2b" stroke-width="1.1" />
<text x="153.20" y="238.00" font-size="8.4" text-anchor="middle" fill="#1a1a1a" font-weight="normal" stroke="#1a1a1a" stroke-width="0.2" textLength="30.2" lengthAdjust="spacingAndGlyphs" >p = 0.34</text>
<line x1="113.80" y1="241.10" x2="192.80" y2="241.10" stroke="#2b2b2b" stroke-width="1.1" />
<text x="252.50" y="239.20" font-size="11.8" text-anchor="start" fill="#000" font-weight="bold" stroke="#000" stroke-width="0.25" >E</text>
<line x1="289.35" y1="258.04" x2="289.35" y2="437.50" stroke="#141414" stroke-width="1.6" />
<line x1="286.55" y1="421.13" x2="289.35" y2="421.13" stroke="#141414" stroke-width="0.9" />
<line x1="286.55" y1="404.33" x2="289.35" y2="404.33" stroke="#141414" stroke-width="0.9" />
<line x1="286.55" y1="387.53" x2="289.35" y2="387.53" stroke="#141414" stroke-width="0.9" />
<line x1="286.55" y1="370.74" x2="289.35" y2="370.74" stroke="#141414" stroke-width="0.9" />
<line x1="286.55" y1="353.94" x2="289.35" y2="353.94" stroke="#141414" stroke-width="0.9" />
<line x1="286.55" y1="337.14" x2="289.35" y2="337.14" stroke="#141414" stroke-width="0.9" />
<line x1="286.55" y1="320.34" x2="289.35" y2="320.34" stroke="#141414" stroke-width="0.9" />
<line x1="286.55" y1="303.55" x2="289.35" y2="303.55" stroke="#141414" stroke-width="0.9" />
<line x1="286.55" y1="286.75" x2="289.35" y2="286.75" stroke="#141414" stroke-width="0.9" />
<line x1="286.55" y1="269.95" x2="289.35" y2="269.95" stroke="#141414" stroke-width="0.9" />
<line x1="287.35" y1="436.60" x2="289.35" y2="436.60" stroke="#141414" stroke-width="0.8" />
<line x1="287.35" y1="435.47" x2="289.35" y2="435.47" stroke="#141414" stroke-width="0.8" />
<line x1="287.35" y1="434.50" x2="289.35" y2="434.50" stroke="#141414" stroke-width="0.8" />
<line x1="287.35" y1="433.64" x2="289.35" y2="433.64" stroke="#141414" stroke-width="0.8" />
<line x1="287.35" y1="427.81" x2="289.35" y2="427.81" stroke="#141414" stroke-width="0.8" />
<line x1="287.35" y1="424.86" x2="289.35" y2="424.86" stroke="#141414" stroke-width="0.8" />
<line x1="287.35" y1="422.76" x2="289.35" y2="422.76" stroke="#141414" stroke-width="0.8" />
<line x1="287.35" y1="419.80" x2="289.35" y2="419.80" stroke="#141414" stroke-width="0.8" />
<line x1="287.35" y1="418.67" x2="289.35" y2="418.67" stroke="#141414" stroke-width="0.8" />
<line x1="287.35" y1="417.70" x2="289.35" y2="417.70" stroke="#141414" stroke-width="0.8" />
<line x1="287.35" y1="416.84" x2="289.35" y2="416.84" stroke="#141414" stroke-width="0.8" />
<line x1="287.35" y1="411.02" x2="289.35" y2="411.02" stroke="#141414" stroke-width="0.8" />
<line x1="287.35" y1="408.06" x2="289.35" y2="408.06" stroke="#141414" stroke-width="0.8" />
<line x1="287.35" y1="405.96" x2="289.35" y2="405.96" stroke="#141414" stroke-width="0.8" />
<line x1="287.35" y1="403.00" x2="289.35" y2="403.00" stroke="#141414" stroke-width="0.8" />
<line x1="287.35" y1="401.88" x2="289.35" y2="401.88" stroke="#141414" stroke-width="0.8" />
<line x1="287.35" y1="400.90" x2="289.35" y2="400.90" stroke="#141414" stroke-width="0.8" />
<line x1="287.35" y1="400.04" x2="289.35" y2="400.04" stroke="#141414" stroke-width="0.8" />
<line x1="287.35" y1="394.22" x2="289.35" y2="394.22" stroke="#141414" stroke-width="0.8" />
<line x1="287.35" y1="391.26" x2="289.35" y2="391.26" stroke="#141414" stroke-width="0.8" />
<line x1="287.35" y1="389.16" x2="289.35" y2="389.16" stroke="#141414" stroke-width="0.8" />
<line x1="287.35" y1="386.20" x2="289.35" y2="386.20" stroke="#141414" stroke-width="0.8" />
<line x1="287.35" y1="385.08" x2="289.35" y2="385.08" stroke="#141414" stroke-width="0.8" />
<line x1="287.35" y1="384.11" x2="289.35" y2="384.11" stroke="#141414" stroke-width="0.8" />
<line x1="287.35" y1="383.25" x2="289.35" y2="383.25" stroke="#141414" stroke-width="0.8" />
<line x1="287.35" y1="377.42" x2="289.35" y2="377.42" stroke="#141414" stroke-width="0.8" />
<line x1="287.35" y1="374.46" x2="289.35" y2="374.46" stroke="#141414" stroke-width="0.8" />
<line x1="287.35" y1="372.36" x2="289.35" y2="372.36" stroke="#141414" stroke-width="0.8" />
<line x1="287.35" y1="369.41" x2="289.35" y2="369.41" stroke="#141414" stroke-width="0.8" />
<line x1="287.35" y1="368.28" x2="289.35" y2="368.28" stroke="#141414" stroke-width="0.8" />
<line x1="287.35" y1="367.31" x2="289.35" y2="367.31" stroke="#141414" stroke-width="0.8" />
<line x1="287.35" y1="366.45" x2="289.35" y2="366.45" stroke="#141414" stroke-width="0.8" />
<line x1="287.35" y1="360.62" x2="289.35" y2="360.62" stroke="#141414" stroke-width="0.8" />
<line x1="287.35" y1="357.67" x2="289.35" y2="357.67" stroke="#141414" stroke-width="0.8" />
<line x1="287.35" y1="355.57" x2="289.35" y2="355.57" stroke="#141414" stroke-width="0.8" />
<line x1="287.35" y1="352.61" x2="289.35" y2="352.61" stroke="#141414" stroke-width="0.8" />
<line x1="287.35" y1="351.48" x2="289.35" y2="351.48" stroke="#141414" stroke-width="0.8" />
<line x1="287.35" y1="350.51" x2="289.35" y2="350.51" stroke="#141414" stroke-width="0.8" />
<line x1="287.35" y1="349.65" x2="289.35" y2="349.65" stroke="#141414" stroke-width="0.8" />
<line x1="287.35" y1="343.83" x2="289.35" y2="343.83" stroke="#141414" stroke-width="0.8" />
<line x1="287.35" y1="340.87" x2="289.35" y2="340.87" stroke="#141414" stroke-width="0.8" />
<line x1="287.35" y1="338.77" x2="289.35" y2="338.77" stroke="#141414" stroke-width="0.8" />
<line x1="287.35" y1="335.81" x2="289.35" y2="335.81" stroke="#141414" stroke-width="0.8" />
<line x1="287.35" y1="334.69" x2="289.35" y2="334.69" stroke="#141414" stroke-width="0.8" />
<line x1="287.35" y1="333.71" x2="289.35" y2="333.71" stroke="#141414" stroke-width="0.8" />
<line x1="287.35" y1="332.85" x2="289.35" y2="332.85" stroke="#141414" stroke-width="0.8" />
<line x1="287.35" y1="327.03" x2="289.35" y2="327.03" stroke="#141414" stroke-width="0.8" />
<line x1="287.35" y1="324.07" x2="289.35" y2="324.07" stroke="#141414" stroke-width="0.8" />
<line x1="287.35" y1="321.97" x2="289.35" y2="321.97" stroke="#141414" stroke-width="0.8" />
<line x1="287.35" y1="319.01" x2="289.35" y2="319.01" stroke="#141414" stroke-width="0.8" />
<line x1="287.35" y1="317.89" x2="289.35" y2="317.89" stroke="#141414" stroke-width="0.8" />
<line x1="287.35" y1="316.92" x2="289.35" y2="316.92" stroke="#141414" stroke-width="0.8" />
<line x1="287.35" y1="316.06" x2="289.35" y2="316.06" stroke="#141414" stroke-width="0.8" />
<line x1="287.35" y1="310.23" x2="289.35" y2="310.23" stroke="#141414" stroke-width="0.8" />
<line x1="287.35" y1="307.27" x2="289.35" y2="307.27" stroke="#141414" stroke-width="0.8" />
<line x1="287.35" y1="305.17" x2="289.35" y2="305.17" stroke="#141414" stroke-width="0.8" />
<line x1="287.35" y1="302.22" x2="289.35" y2="302.22" stroke="#141414" stroke-width="0.8" />
<line x1="287.35" y1="301.09" x2="289.35" y2="301.09" stroke="#141414" stroke-width="0.8" />
<line x1="287.35" y1="300.12" x2="289.35" y2="300.12" stroke="#141414" stroke-width="0.8" />
<line x1="287.35" y1="299.26" x2="289.35" y2="299.26" stroke="#141414" stroke-width="0.8" />
<line x1="287.35" y1="293.43" x2="289.35" y2="293.43" stroke="#141414" stroke-width="0.8" />
<line x1="287.35" y1="290.48" x2="289.35" y2="290.48" stroke="#141414" stroke-width="0.8" />
<line x1="287.35" y1="288.38" x2="289.35" y2="288.38" stroke="#141414" stroke-width="0.8" />
<line x1="287.35" y1="285.42" x2="289.35" y2="285.42" stroke="#141414" stroke-width="0.8" />
<line x1="287.35" y1="284.29" x2="289.35" y2="284.29" stroke="#141414" stroke-width="0.8" />
<line x1="287.35" y1="283.32" x2="289.35" y2="283.32" stroke="#141414" stroke-width="0.8" />
<line x1="287.35" y1="282.46" x2="289.35" y2="282.46" stroke="#141414" stroke-width="0.8" />
<line x1="287.35" y1="276.64" x2="289.35" y2="276.64" stroke="#141414" stroke-width="0.8" />
<line x1="287.35" y1="273.68" x2="289.35" y2="273.68" stroke="#141414" stroke-width="0.8" />
<line x1="287.35" y1="271.58" x2="289.35" y2="271.58" stroke="#141414" stroke-width="0.8" />
<line x1="287.35" y1="268.62" x2="289.35" y2="268.62" stroke="#141414" stroke-width="0.8" />
<line x1="287.35" y1="267.50" x2="289.35" y2="267.50" stroke="#141414" stroke-width="0.8" />
<line x1="287.35" y1="266.52" x2="289.35" y2="266.52" stroke="#141414" stroke-width="0.8" />
<line x1="287.35" y1="265.66" x2="289.35" y2="265.66" stroke="#141414" stroke-width="0.8" />
<line x1="287.35" y1="259.84" x2="289.35" y2="259.84" stroke="#141414" stroke-width="0.8" />
<line x1="285.05" y1="432.87" x2="289.35" y2="432.87" stroke="#141414" stroke-width="1.0" />
<line x1="285.05" y1="416.07" x2="289.35" y2="416.07" stroke="#141414" stroke-width="1.0" />
<line x1="285.05" y1="399.28" x2="289.35" y2="399.28" stroke="#141414" stroke-width="1.0" />
<line x1="285.05" y1="382.48" x2="289.35" y2="382.48" stroke="#141414" stroke-width="1.0" />
<line x1="285.05" y1="365.68" x2="289.35" y2="365.68" stroke="#141414" stroke-width="1.0" />
<line x1="285.05" y1="348.88" x2="289.35" y2="348.88" stroke="#141414" stroke-width="1.0" />
<line x1="285.05" y1="332.09" x2="289.35" y2="332.09" stroke="#141414" stroke-width="1.0" />
<line x1="285.05" y1="315.29" x2="289.35" y2="315.29" stroke="#141414" stroke-width="1.0" />
<line x1="285.05" y1="298.49" x2="289.35" y2="298.49" stroke="#141414" stroke-width="1.0" />
<line x1="285.05" y1="281.69" x2="289.35" y2="281.69" stroke="#141414" stroke-width="1.0" />
<line x1="285.05" y1="264.90" x2="289.35" y2="264.90" stroke="#141414" stroke-width="1.0" />
<line x1="286.05" y1="259.49" x2="289.35" y2="259.49" stroke="#141414" stroke-width="1.0" />
<text x="284.60" y="262.29" font-size="9.2" text-anchor="end" fill="#1a1a1a" font-weight="normal" stroke="#1a1a1a" stroke-width="0.2" textLength="17.19" lengthAdjust="spacingAndGlyphs" >1280</text>
<line x1="286.05" y1="276.29" x2="289.35" y2="276.29" stroke="#141414" stroke-width="1.0" />
<text x="284.60" y="279.09" font-size="9.2" text-anchor="end" fill="#1a1a1a" font-weight="normal" stroke="#1a1a1a" stroke-width="0.2" textLength="12.89" lengthAdjust="spacingAndGlyphs" >640</text>
<line x1="286.05" y1="293.08" x2="289.35" y2="293.08" stroke="#141414" stroke-width="1.0" />
<text x="284.60" y="295.88" font-size="9.2" text-anchor="end" fill="#1a1a1a" font-weight="normal" stroke="#1a1a1a" stroke-width="0.2" textLength="12.89" lengthAdjust="spacingAndGlyphs" >320</text>
<line x1="286.05" y1="309.88" x2="289.35" y2="309.88" stroke="#141414" stroke-width="1.0" />
<text x="284.60" y="312.68" font-size="9.2" text-anchor="end" fill="#1a1a1a" font-weight="normal" stroke="#1a1a1a" stroke-width="0.2" textLength="12.89" lengthAdjust="spacingAndGlyphs" >160</text>
<line x1="286.05" y1="326.68" x2="289.35" y2="326.68" stroke="#141414" stroke-width="1.0" />
<text x="284.60" y="329.48" font-size="9.2" text-anchor="end" fill="#1a1a1a" font-weight="normal" stroke="#1a1a1a" stroke-width="0.2" textLength="8.59" lengthAdjust="spacingAndGlyphs" >80</text>
<line x1="286.05" y1="343.48" x2="289.35" y2="343.48" stroke="#141414" stroke-width="1.0" />
<text x="284.60" y="346.28" font-size="9.2" text-anchor="end" fill="#1a1a1a" font-weight="normal" stroke="#1a1a1a" stroke-width="0.2" textLength="8.59" lengthAdjust="spacingAndGlyphs" >40</text>
<line x1="286.05" y1="360.27" x2="289.35" y2="360.27" stroke="#141414" stroke-width="1.0" />
<text x="284.60" y="363.07" font-size="9.2" text-anchor="end" fill="#1a1a1a" font-weight="normal" stroke="#1a1a1a" stroke-width="0.2" textLength="8.59" lengthAdjust="spacingAndGlyphs" >20</text>
<line x1="286.05" y1="377.07" x2="289.35" y2="377.07" stroke="#141414" stroke-width="1.0" />
<text x="284.60" y="379.87" font-size="9.2" text-anchor="end" fill="#1a1a1a" font-weight="normal" stroke="#1a1a1a" stroke-width="0.2" textLength="8.59" lengthAdjust="spacingAndGlyphs" >10</text>
<line x1="286.05" y1="393.87" x2="289.35" y2="393.87" stroke="#141414" stroke-width="1.0" />
<text x="284.60" y="396.67" font-size="9.2" text-anchor="end" fill="#1a1a1a" font-weight="normal" stroke="#1a1a1a" stroke-width="0.2" textLength="4.3" lengthAdjust="spacingAndGlyphs" >5</text>
<line x1="286.05" y1="416.07" x2="289.35" y2="416.07" stroke="#141414" stroke-width="1.0" />
<text x="284.60" y="418.87" font-size="9.2" text-anchor="end" fill="#1a1a1a" font-weight="normal" stroke="#1a1a1a" stroke-width="0.2" textLength="4.3" lengthAdjust="spacingAndGlyphs" >2</text>
<line x1="286.05" y1="432.87" x2="289.35" y2="432.87" stroke="#141414" stroke-width="1.0" />
<text x="284.60" y="435.67" font-size="9.2" text-anchor="end" fill="#1a1a1a" font-weight="normal" stroke="#1a1a1a" stroke-width="0.2" textLength="4.3" lengthAdjust="spacingAndGlyphs" >1</text>
<line x1="313.60" y1="310.30" x2="313.60" y2="327.20" stroke="#c8102e" stroke-width="1.25" />
<line x1="313.60" y1="359.40" x2="313.60" y2="375.10" stroke="#c8102e" stroke-width="1.25" />
<rect x="298.80" y="327.20" width="29.50" height="32.20" fill="#e3919d" stroke="#c8102e" stroke-width="1.3"/>
<line x1="353.60" y1="277.60" x2="353.60" y2="293.90" stroke="#1d5a8e" stroke-width="1.25" />
<line x1="353.60" y1="359.40" x2="353.60" y2="432.70" stroke="#1d5a8e" stroke-width="1.25" />
<rect x="338.80" y="293.90" width="29.50" height="65.50" fill="#8aa9c5" stroke="#1d5a8e" stroke-width="1.3"/>
<line x1="393.90" y1="418.70" x2="393.90" y2="419.00" stroke="#1d5a8e" stroke-width="1.25" />
<rect x="378.90" y="419.00" width="29.80" height="13.70" fill="#8aa9c5" stroke="#1d5a8e" stroke-width="1.3"/>
<line x1="434.00" y1="276.40" x2="434.00" y2="343.60" stroke="#1d5a8e" stroke-width="1.25" />
<rect x="419.30" y="343.60" width="29.70" height="89.30" fill="#8aa9c5" stroke="#1d5a8e" stroke-width="1.3"/>
<line x1="289.60" y1="360.60" x2="458.00" y2="360.60" stroke="#5e5e5e" stroke-width="1.3" stroke-dasharray="3.9 2.20" stroke-dashoffset="2.20"/>
<clipPath id="cl5"><rect x="339.50" y="293.90" width="28.10" height="65.50"/><rect x="379.60" y="419.00" width="28.40" height="13.70"/><rect x="420.00" y="343.60" width="28.30" height="89.30"/></clipPath>
<line x1="289.60" y1="360.60" x2="458.00" y2="360.60" stroke="#6c655d" stroke-width="1.3" stroke-dasharray="3.9 2.20" stroke-dashoffset="2.20" clip-path="url(#cl5)"/>
<line x1="298.80" y1="343.30" x2="328.30" y2="343.30" stroke="#c00a2a" stroke-width="2.1" />
<line x1="338.80" y1="326.80" x2="368.30" y2="326.80" stroke="#084683" stroke-width="2.1" />
<line x1="378.90" y1="432.50" x2="408.70" y2="432.50" stroke="#084683" stroke-width="2.1" />
<line x1="419.30" y1="367.55" x2="449.00" y2="367.55" stroke="#084683" stroke-width="2.1" />
<circle cx="307.40" cy="307.70" r="1.6" fill="#c0062a"/>
<circle cx="308.10" cy="311.60" r="1.6" fill="#c0062a"/>
<circle cx="314.00" cy="324.70" r="1.6" fill="#c0062a"/>
<circle cx="308.70" cy="329.50" r="1.6" fill="#c0062a"/>
<circle cx="312.00" cy="329.50" r="1.6" fill="#c0062a"/>
<circle cx="313.30" cy="340.80" r="1.6" fill="#c0062a"/>
<circle cx="313.60" cy="344.30" r="1.6" fill="#c0062a"/>
<circle cx="315.50" cy="343.90" r="1.6" fill="#c0062a"/>
<circle cx="311.60" cy="358.10" r="1.6" fill="#c0062a"/>
<circle cx="309.40" cy="360.70" r="1.6" fill="#c0062a"/>
<circle cx="318.50" cy="361.30" r="1.6" fill="#c0062a"/>
<circle cx="316.20" cy="373.10" r="1.6" fill="#c0062a"/>
<circle cx="314.90" cy="377.96" r="1.6" fill="#c0062a"/>
<circle cx="356.20" cy="276.80" r="1.6" fill="#07407a"/>
<circle cx="354.20" cy="290.70" r="1.6" fill="#07407a"/>
<circle cx="356.20" cy="292.30" r="1.6" fill="#07407a"/>
<circle cx="359.50" cy="293.30" r="1.6" fill="#07407a"/>
<circle cx="355.30" cy="296.60" r="1.6" fill="#07407a"/>
<circle cx="348.10" cy="308.40" r="1.6" fill="#07407a"/>
<circle cx="352.90" cy="308.40" r="1.6" fill="#07407a"/>
<circle cx="356.60" cy="307.30" r="1.6" fill="#07407a"/>
<circle cx="354.00" cy="326.00" r="1.6" fill="#07407a"/>
<circle cx="355.50" cy="341.30" r="1.6" fill="#07407a"/>
<circle cx="358.10" cy="345.90" r="1.6" fill="#07407a"/>
<circle cx="347.70" cy="361.10" r="1.6" fill="#07407a"/>
<circle cx="356.80" cy="362.70" r="1.6" fill="#07407a"/>
<circle cx="359.50" cy="378.10" r="1.6" fill="#07407a"/>
<circle cx="350.00" cy="432.25" r="1.6" fill="#07407a"/>
<circle cx="352.00" cy="431.00" r="1.6" fill="#07407a"/>
<circle cx="352.75" cy="430.25" r="1.6" fill="#07407a"/>
<circle cx="349.50" cy="436.50" r="1.6" fill="#07407a"/>
<circle cx="395.30" cy="362.40" r="1.6" fill="#07407a"/>
<circle cx="395.80" cy="372.90" r="1.6" fill="#07407a"/>
<circle cx="397.10" cy="374.20" r="1.6" fill="#07407a"/>
<circle cx="390.50" cy="430.60" r="1.6" fill="#07407a"/>
<circle cx="392.00" cy="431.20" r="1.6" fill="#07407a"/>
<circle cx="398.50" cy="431.60" r="1.6" fill="#07407a"/>
<circle cx="388.20" cy="434.30" r="1.6" fill="#07407a"/>
<circle cx="391.50" cy="435.60" r="1.6" fill="#07407a"/>
<circle cx="393.00" cy="436.00" r="1.6" fill="#07407a"/>
<circle cx="396.50" cy="434.00" r="1.6" fill="#07407a"/>
<circle cx="399.00" cy="435.30" r="1.6" fill="#07407a"/>
<circle cx="389.50" cy="436.40" r="1.6" fill="#07407a"/>
<circle cx="399.00" cy="436.60" r="1.6" fill="#07407a"/>
<circle cx="394.50" cy="432.20" r="1.6" fill="#07407a"/>
<circle cx="396.80" cy="432.60" r="1.6" fill="#07407a"/>
<circle cx="389.40" cy="432.80" r="1.6" fill="#07407a"/>
<circle cx="429.40" cy="274.80" r="1.6" fill="#07407a"/>
<circle cx="430.30" cy="310.40" r="1.6" fill="#07407a"/>
<circle cx="431.20" cy="324.10" r="1.6" fill="#07407a"/>
<circle cx="434.60" cy="328.70" r="1.6" fill="#07407a"/>
<circle cx="429.60" cy="346.10" r="1.6" fill="#07407a"/>
<circle cx="435.40" cy="345.40" r="1.6" fill="#07407a"/>
<circle cx="440.10" cy="346.10" r="1.6" fill="#07407a"/>
<circle cx="430.30" cy="361.10" r="1.6" fill="#07407a"/>
<circle cx="439.80" cy="361.10" r="1.6" fill="#07407a"/>
<circle cx="432.50" cy="375.60" r="1.6" fill="#07407a"/>
<circle cx="431.25" cy="430.25" r="1.6" fill="#07407a"/>
<circle cx="434.75" cy="431.00" r="1.6" fill="#07407a"/>
<circle cx="429.00" cy="432.75" r="1.6" fill="#07407a"/>
<circle cx="439.00" cy="433.25" r="1.6" fill="#07407a"/>
<circle cx="429.00" cy="436.00" r="1.6" fill="#07407a"/>
<circle cx="434.50" cy="435.75" r="1.6" fill="#07407a"/>
<circle cx="434.75" cy="434.25" r="1.6" fill="#07407a"/>
<line x1="288.55" y1="437.50" x2="458.00" y2="437.50" stroke="#141414" stroke-width="1.6" />
<line x1="313.60" y1="437.50" x2="313.60" y2="440.50" stroke="#141414" stroke-width="1.0" />
<text x="313.60" y="449.80" font-size="8.3" text-anchor="middle" fill="#1a1a1a" font-weight="normal" stroke="#1a1a1a" stroke-width="0.2" textLength="13.4" lengthAdjust="spacingAndGlyphs" >Ctrl</text>
<line x1="353.60" y1="437.50" x2="353.60" y2="440.50" stroke="#141414" stroke-width="1.0" />
<text x="353.60" y="449.80" font-size="8.3" text-anchor="middle" fill="#1a1a1a" font-weight="normal" stroke="#1a1a1a" stroke-width="0.2" textLength="19.2" lengthAdjust="spacingAndGlyphs" >None</text>
<line x1="393.90" y1="437.50" x2="393.90" y2="440.50" stroke="#141414" stroke-width="1.0" />
<text x="393.90" y="449.80" font-size="8.3" text-anchor="middle" fill="#1a1a1a" font-weight="normal" stroke="#1a1a1a" stroke-width="0.2" textLength="29.6" lengthAdjust="spacingAndGlyphs" >Therapy</text>
<line x1="434.00" y1="437.50" x2="434.00" y2="440.50" stroke="#141414" stroke-width="1.0" />
<text x="434.00" y="449.80" font-size="8.3" text-anchor="middle" fill="#1a1a1a" font-weight="normal" stroke="#1a1a1a" stroke-width="0.2" textLength="22.6" lengthAdjust="spacingAndGlyphs" >Maint.</text>
<text x="260.60" y="347.50" font-size="9.6" text-anchor="middle" fill="#222" font-weight="normal" textLength="87.0" lengthAdjust="spacingAndGlyphs" transform="rotate(-90 260.60 347.50)" >B.1.1.7 neutralisation titer</text>
<text x="331.70" y="251.80" font-size="8.4" text-anchor="middle" fill="#1a1a1a" font-weight="normal" stroke="#1a1a1a" stroke-width="0.2" textLength="30.2" lengthAdjust="spacingAndGlyphs" >p = 0.33</text>
<line x1="312.50" y1="254.50" x2="350.40" y2="254.50" stroke="#2b2b2b" stroke-width="1.1" />
<text x="371.90" y="251.80" font-size="8.4" text-anchor="middle" fill="#1a1a1a" font-weight="normal" stroke="#1a1a1a" stroke-width="0.2" textLength="29.8" lengthAdjust="spacingAndGlyphs" >p&lt;0.001</text>
<line x1="353.50" y1="254.50" x2="391.00" y2="254.50" stroke="#2b2b2b" stroke-width="1.1" />
<text x="414.40" y="251.80" font-size="8.4" text-anchor="middle" fill="#1a1a1a" font-weight="normal" stroke="#1a1a1a" stroke-width="0.2" textLength="34.8" lengthAdjust="spacingAndGlyphs" >p = 0.028</text>
<line x1="395.50" y1="254.50" x2="433.30" y2="254.50" stroke="#2b2b2b" stroke-width="1.1" />
<text x="393.50" y="237.80" font-size="8.4" text-anchor="middle" fill="#1a1a1a" font-weight="normal" stroke="#1a1a1a" stroke-width="0.2" textLength="34.4" lengthAdjust="spacingAndGlyphs" >p = 0.055</text>
<line x1="354.40" y1="241.00" x2="432.90" y2="241.00" stroke="#2b2b2b" stroke-width="1.1" />
<text x="6.40" y="478.90" font-size="11.8" text-anchor="start" fill="#000" font-weight="bold" stroke="#000" stroke-width="0.25" >F</text>
<line x1="48.80" y1="488.04" x2="48.80" y2="667.45" stroke="#141414" stroke-width="1.6" />
<line x1="46.00" y1="650.99" x2="48.80" y2="650.99" stroke="#141414" stroke-width="0.9" />
<line x1="46.00" y1="634.19" x2="48.80" y2="634.19" stroke="#141414" stroke-width="0.9" />
<line x1="46.00" y1="617.39" x2="48.80" y2="617.39" stroke="#141414" stroke-width="0.9" />
<line x1="46.00" y1="600.60" x2="48.80" y2="600.60" stroke="#141414" stroke-width="0.9" />
<line x1="46.00" y1="583.80" x2="48.80" y2="583.80" stroke="#141414" stroke-width="0.9" />
<line x1="46.00" y1="567.00" x2="48.80" y2="567.00" stroke="#141414" stroke-width="0.9" />
<line x1="46.00" y1="550.20" x2="48.80" y2="550.20" stroke="#141414" stroke-width="0.9" />
<line x1="46.00" y1="533.41" x2="48.80" y2="533.41" stroke="#141414" stroke-width="0.9" />
<line x1="46.00" y1="516.61" x2="48.80" y2="516.61" stroke="#141414" stroke-width="0.9" />
<line x1="46.00" y1="499.81" x2="48.80" y2="499.81" stroke="#141414" stroke-width="0.9" />
<line x1="46.80" y1="666.46" x2="48.80" y2="666.46" stroke="#141414" stroke-width="0.8" />
<line x1="46.80" y1="665.33" x2="48.80" y2="665.33" stroke="#141414" stroke-width="0.8" />
<line x1="46.80" y1="664.36" x2="48.80" y2="664.36" stroke="#141414" stroke-width="0.8" />
<line x1="46.80" y1="663.50" x2="48.80" y2="663.50" stroke="#141414" stroke-width="0.8" />
<line x1="46.80" y1="657.67" x2="48.80" y2="657.67" stroke="#141414" stroke-width="0.8" />
<line x1="46.80" y1="654.72" x2="48.80" y2="654.72" stroke="#141414" stroke-width="0.8" />
<line x1="46.80" y1="652.62" x2="48.80" y2="652.62" stroke="#141414" stroke-width="0.8" />
<line x1="46.80" y1="649.66" x2="48.80" y2="649.66" stroke="#141414" stroke-width="0.8" />
<line x1="46.80" y1="648.53" x2="48.80" y2="648.53" stroke="#141414" stroke-width="0.8" />
<line x1="46.80" y1="647.56" x2="48.80" y2="647.56" stroke="#141414" stroke-width="0.8" />
<line x1="46.80" y1="646.70" x2="48.80" y2="646.70" stroke="#141414" stroke-width="0.8" />
<line x1="46.80" y1="640.88" x2="48.80" y2="640.88" stroke="#141414" stroke-width="0.8" />
<line x1="46.80" y1="637.92" x2="48.80" y2="637.92" stroke="#141414" stroke-width="0.8" />
<line x1="46.80" y1="635.82" x2="48.80" y2="635.82" stroke="#141414" stroke-width="0.8" />
<line x1="46.80" y1="632.86" x2="48.80" y2="632.86" stroke="#141414" stroke-width="0.8" />
<line x1="46.80" y1="631.74" x2="48.80" y2="631.74" stroke="#141414" stroke-width="0.8" />
<line x1="46.80" y1="630.76" x2="48.80" y2="630.76" stroke="#141414" stroke-width="0.8" />
<line x1="46.80" y1="629.90" x2="48.80" y2="629.90" stroke="#141414" stroke-width="0.8" />
<line x1="46.80" y1="624.08" x2="48.80" y2="624.08" stroke="#141414" stroke-width="0.8" />
<line x1="46.80" y1="621.12" x2="48.80" y2="621.12" stroke="#141414" stroke-width="0.8" />
<line x1="46.80" y1="619.02" x2="48.80" y2="619.02" stroke="#141414" stroke-width="0.8" />
<line x1="46.80" y1="616.06" x2="48.80" y2="616.06" stroke="#141414" stroke-width="0.8" />
<line x1="46.80" y1="614.94" x2="48.80" y2="614.94" stroke="#141414" stroke-width="0.8" />
<line x1="46.80" y1="613.97" x2="48.80" y2="613.97" stroke="#141414" stroke-width="0.8" />
<line x1="46.80" y1="613.11" x2="48.80" y2="613.11" stroke="#141414" stroke-width="0.8" />
<line x1="46.80" y1="607.28" x2="48.80" y2="607.28" stroke="#141414" stroke-width="0.8" />
<line x1="46.80" y1="604.32" x2="48.80" y2="604.32" stroke="#141414" stroke-width="0.8" />
<line x1="46.80" y1="602.22" x2="48.80" y2="602.22" stroke="#141414" stroke-width="0.8" />
<line x1="46.80" y1="599.27" x2="48.80" y2="599.27" stroke="#141414" stroke-width="0.8" />
<line x1="46.80" y1="598.14" x2="48.80" y2="598.14" stroke="#141414" stroke-width="0.8" />
<line x1="46.80" y1="597.17" x2="48.80" y2="597.17" stroke="#141414" stroke-width="0.8" />
<line x1="46.80" y1="596.31" x2="48.80" y2="596.31" stroke="#141414" stroke-width="0.8" />
<line x1="46.80" y1="590.48" x2="48.80" y2="590.48" stroke="#141414" stroke-width="0.8" />
<line x1="46.80" y1="587.53" x2="48.80" y2="587.53" stroke="#141414" stroke-width="0.8" />
<line x1="46.80" y1="585.43" x2="48.80" y2="585.43" stroke="#141414" stroke-width="0.8" />
<line x1="46.80" y1="582.47" x2="48.80" y2="582.47" stroke="#141414" stroke-width="0.8" />
<line x1="46.80" y1="581.34" x2="48.80" y2="581.34" stroke="#141414" stroke-width="0.8" />
<line x1="46.80" y1="580.37" x2="48.80" y2="580.37" stroke="#141414" stroke-width="0.8" />
<line x1="46.80" y1="579.51" x2="48.80" y2="579.51" stroke="#141414" stroke-width="0.8" />
<line x1="46.80" y1="573.69" x2="48.80" y2="573.69" stroke="#141414" stroke-width="0.8" />
<line x1="46.80" y1="570.73" x2="48.80" y2="570.73" stroke="#141414" stroke-width="0.8" />
<line x1="46.80" y1="568.63" x2="48.80" y2="568.63" stroke="#141414" stroke-width="0.8" />
<line x1="46.80" y1="565.67" x2="48.80" y2="565.67" stroke="#141414" stroke-width="0.8" />
<line x1="46.80" y1="564.55" x2="48.80" y2="564.55" stroke="#141414" stroke-width="0.8" />
<line x1="46.80" y1="563.57" x2="48.80" y2="563.57" stroke="#141414" stroke-width="0.8" />
<line x1="46.80" y1="562.71" x2="48.80" y2="562.71" stroke="#141414" stroke-width="0.8" />
<line x1="46.80" y1="556.89" x2="48.80" y2="556.89" stroke="#141414" stroke-width="0.8" />
<line x1="46.80" y1="553.93" x2="48.80" y2="553.93" stroke="#141414" stroke-width="0.8" />
<line x1="46.80" y1="551.83" x2="48.80" y2="551.83" stroke="#141414" stroke-width="0.8" />
<line x1="46.80" y1="548.87" x2="48.80" y2="548.87" stroke="#141414" stroke-width="0.8" />
<line x1="46.80" y1="547.75" x2="48.80" y2="547.75" stroke="#141414" stroke-width="0.8" />
<line x1="46.80" y1="546.78" x2="48.80" y2="546.78" stroke="#141414" stroke-width="0.8" />
<line x1="46.80" y1="545.92" x2="48.80" y2="545.92" stroke="#141414" stroke-width="0.8" />
<line x1="46.80" y1="540.09" x2="48.80" y2="540.09" stroke="#141414" stroke-width="0.8" />
<line x1="46.80" y1="537.13" x2="48.80" y2="537.13" stroke="#141414" stroke-width="0.8" />
<line x1="46.80" y1="535.03" x2="48.80" y2="535.03" stroke="#141414" stroke-width="0.8" />
<line x1="46.80" y1="532.08" x2="48.80" y2="532.08" stroke="#141414" stroke-width="0.8" />
<line x1="46.80" y1="530.95" x2="48.80" y2="530.95" stroke="#141414" stroke-width="0.8" />
<line x1="46.80" y1="529.98" x2="48.80" y2="529.98" stroke="#141414" stroke-width="0.8" />
<line x1="46.80" y1="529.12" x2="48.80" y2="529.12" stroke="#141414" stroke-width="0.8" />
<line x1="46.80" y1="523.29" x2="48.80" y2="523.29" stroke="#141414" stroke-width="0.8" />
<line x1="46.80" y1="520.34" x2="48.80" y2="520.34" stroke="#141414" stroke-width="0.8" />
<line x1="46.80" y1="518.24" x2="48.80" y2="518.24" stroke="#141414" stroke-width="0.8" />
<line x1="46.80" y1="515.28" x2="48.80" y2="515.28" stroke="#141414" stroke-width="0.8" />
<line x1="46.80" y1="514.15" x2="48.80" y2="514.15" stroke="#141414" stroke-width="0.8" />
<line x1="46.80" y1="513.18" x2="48.80" y2="513.18" stroke="#141414" stroke-width="0.8" />
<line x1="46.80" y1="512.32" x2="48.80" y2="512.32" stroke="#141414" stroke-width="0.8" />
<line x1="46.80" y1="506.50" x2="48.80" y2="506.50" stroke="#141414" stroke-width="0.8" />
<line x1="46.80" y1="503.54" x2="48.80" y2="503.54" stroke="#141414" stroke-width="0.8" />
<line x1="46.80" y1="501.44" x2="48.80" y2="501.44" stroke="#141414" stroke-width="0.8" />
<line x1="46.80" y1="498.48" x2="48.80" y2="498.48" stroke="#141414" stroke-width="0.8" />
<line x1="46.80" y1="497.36" x2="48.80" y2="497.36" stroke="#141414" stroke-width="0.8" />
<line x1="46.80" y1="496.38" x2="48.80" y2="496.38" stroke="#141414" stroke-width="0.8" />
<line x1="46.80" y1="495.52" x2="48.80" y2="495.52" stroke="#141414" stroke-width="0.8" />
<line x1="46.80" y1="489.70" x2="48.80" y2="489.70" stroke="#141414" stroke-width="0.8" />
<line x1="44.50" y1="662.73" x2="48.80" y2="662.73" stroke="#141414" stroke-width="1.0" />
<line x1="44.50" y1="645.93" x2="48.80" y2="645.93" stroke="#141414" stroke-width="1.0" />
<line x1="44.50" y1="629.14" x2="48.80" y2="629.14" stroke="#141414" stroke-width="1.0" />
<line x1="44.50" y1="612.34" x2="48.80" y2="612.34" stroke="#141414" stroke-width="1.0" />
<line x1="44.50" y1="595.54" x2="48.80" y2="595.54" stroke="#141414" stroke-width="1.0" />
<line x1="44.50" y1="578.74" x2="48.80" y2="578.74" stroke="#141414" stroke-width="1.0" />
<line x1="44.50" y1="561.95" x2="48.80" y2="561.95" stroke="#141414" stroke-width="1.0" />
<line x1="44.50" y1="545.15" x2="48.80" y2="545.15" stroke="#141414" stroke-width="1.0" />
<line x1="44.50" y1="528.35" x2="48.80" y2="528.35" stroke="#141414" stroke-width="1.0" />
<line x1="44.50" y1="511.55" x2="48.80" y2="511.55" stroke="#141414" stroke-width="1.0" />
<line x1="44.50" y1="494.76" x2="48.80" y2="494.76" stroke="#141414" stroke-width="1.0" />
<line x1="45.50" y1="489.35" x2="48.80" y2="489.35" stroke="#141414" stroke-width="1.0" />
<text x="41.60" y="492.15" font-size="9.2" text-anchor="end" fill="#1a1a1a" font-weight="normal" stroke="#1a1a1a" stroke-width="0.2" textLength="17.19" lengthAdjust="spacingAndGlyphs" >1280</text>
<line x1="45.50" y1="506.15" x2="48.80" y2="506.15" stroke="#141414" stroke-width="1.0" />
<text x="41.60" y="508.95" font-size="9.2" text-anchor="end" fill="#1a1a1a" font-weight="normal" stroke="#1a1a1a" stroke-width="0.2" textLength="12.89" lengthAdjust="spacingAndGlyphs" >640</text>
<line x1="45.50" y1="522.94" x2="48.80" y2="522.94" stroke="#141414" stroke-width="1.0" />
<text x="41.60" y="525.74" font-size="9.2" text-anchor="end" fill="#1a1a1a" font-weight="normal" stroke="#1a1a1a" stroke-width="0.2" textLength="12.89" lengthAdjust="spacingAndGlyphs" >320</text>
<line x1="45.50" y1="539.74" x2="48.80" y2="539.74" stroke="#141414" stroke-width="1.0" />
<text x="41.60" y="542.54" font-size="9.2" text-anchor="end" fill="#1a1a1a" font-weight="normal" stroke="#1a1a1a" stroke-width="0.2" textLength="12.89" lengthAdjust="spacingAndGlyphs" >160</text>
<line x1="45.50" y1="556.54" x2="48.80" y2="556.54" stroke="#141414" stroke-width="1.0" />
<text x="41.60" y="559.34" font-size="9.2" text-anchor="end" fill="#1a1a1a" font-weight="normal" stroke="#1a1a1a" stroke-width="0.2" textLength="8.59" lengthAdjust="spacingAndGlyphs" >80</text>
<line x1="45.50" y1="573.34" x2="48.80" y2="573.34" stroke="#141414" stroke-width="1.0" />
<text x="41.60" y="576.14" font-size="9.2" text-anchor="end" fill="#1a1a1a" font-weight="normal" stroke="#1a1a1a" stroke-width="0.2" textLength="8.59" lengthAdjust="spacingAndGlyphs" >40</text>
<line x1="45.50" y1="590.13" x2="48.80" y2="590.13" stroke="#141414" stroke-width="1.0" />
<text x="41.60" y="592.93" font-size="9.2" text-anchor="end" fill="#1a1a1a" font-weight="normal" stroke="#1a1a1a" stroke-width="0.2" textLength="8.59" lengthAdjust="spacingAndGlyphs" >20</text>
<line x1="45.50" y1="606.93" x2="48.80" y2="606.93" stroke="#141414" stroke-width="1.0" />
<text x="41.60" y="609.73" font-size="9.2" text-anchor="end" fill="#1a1a1a" font-weight="normal" stroke="#1a1a1a" stroke-width="0.2" textLength="8.59" lengthAdjust="spacingAndGlyphs" >10</text>
<line x1="45.50" y1="623.73" x2="48.80" y2="623.73" stroke="#141414" stroke-width="1.0" />
<text x="41.60" y="626.53" font-size="9.2" text-anchor="end" fill="#1a1a1a" font-weight="normal" stroke="#1a1a1a" stroke-width="0.2" textLength="4.3" lengthAdjust="spacingAndGlyphs" >5</text>
<line x1="45.50" y1="645.93" x2="48.80" y2="645.93" stroke="#141414" stroke-width="1.0" />
<text x="41.60" y="648.73" font-size="9.2" text-anchor="end" fill="#1a1a1a" font-weight="normal" stroke="#1a1a1a" stroke-width="0.2" textLength="4.3" lengthAdjust="spacingAndGlyphs" >2</text>
<line x1="45.50" y1="662.73" x2="48.80" y2="662.73" stroke="#141414" stroke-width="1.0" />
<text x="41.60" y="665.53" font-size="9.2" text-anchor="end" fill="#1a1a1a" font-weight="normal" stroke="#1a1a1a" stroke-width="0.2" textLength="4.3" lengthAdjust="spacingAndGlyphs" >1</text>
<line x1="78.30" y1="489.40" x2="78.30" y2="556.50" stroke="#1d5a8e" stroke-width="1.25" />
<rect x="59.90" y="556.50" width="36.50" height="106.50" fill="#8aa9c5" stroke="#1d5a8e" stroke-width="1.3"/>
<line x1="127.30" y1="505.50" x2="127.30" y2="573.20" stroke="#1d5a8e" stroke-width="1.25" />
<rect x="108.90" y="573.20" width="36.60" height="89.50" fill="#8aa9c5" stroke="#1d5a8e" stroke-width="1.3"/>
<line x1="49.80" y1="590.40" x2="154.70" y2="590.40" stroke="#5e5e5e" stroke-width="1.3" stroke-dasharray="3.9 2.30" stroke-dashoffset="2.95"/>
<clipPath id="cl6"><rect x="60.60" y="556.50" width="35.10" height="106.50"/><rect x="109.60" y="573.20" width="35.20" height="89.50"/></clipPath>
<line x1="49.80" y1="590.40" x2="154.70" y2="590.40" stroke="#6c655d" stroke-width="1.3" stroke-dasharray="3.9 2.30" stroke-dashoffset="2.95" clip-path="url(#cl6)"/>
<line x1="59.90" y1="589.00" x2="96.40" y2="589.00" stroke="#084683" stroke-width="2.1" />
<line x1="108.90" y1="604.80" x2="145.50" y2="604.80" stroke="#084683" stroke-width="2.1" />
<circle cx="75.50" cy="488.10" r="1.6" fill="#07407a"/>
<circle cx="71.00" cy="504.20" r="1.6" fill="#07407a"/>
<circle cx="74.00" cy="504.20" r="1.6" fill="#07407a"/>
<circle cx="81.60" cy="504.20" r="1.6" fill="#07407a"/>
<circle cx="77.25" cy="507.70" r="1.6" fill="#07407a"/>
<circle cx="79.00" cy="507.50" r="1.6" fill="#07407a"/>
<circle cx="71.40" cy="524.50" r="1.6" fill="#07407a"/>
<circle cx="74.00" cy="526.10" r="1.6" fill="#07407a"/>
<circle cx="73.70" cy="537.90" r="1.6" fill="#07407a"/>
<circle cx="73.10" cy="541.50" r="1.6" fill="#07407a"/>
<circle cx="78.60" cy="539.60" r="1.6" fill="#07407a"/>
<circle cx="72.00" cy="554.90" r="1.6" fill="#07407a"/>
<circle cx="73.70" cy="555.70" r="1.6" fill="#07407a"/>
<circle cx="71.40" cy="558.30" r="1.6" fill="#07407a"/>
<circle cx="72.00" cy="559.20" r="1.6" fill="#07407a"/>
<circle cx="79.60" cy="556.60" r="1.6" fill="#07407a"/>
<circle cx="82.50" cy="554.60" r="1.6" fill="#07407a"/>
<circle cx="83.10" cy="558.50" r="1.6" fill="#07407a"/>
<circle cx="83.50" cy="559.60" r="1.6" fill="#07407a"/>
<circle cx="72.00" cy="574.40" r="1.6" fill="#07407a"/>
<circle cx="74.60" cy="574.70" r="1.6" fill="#07407a"/>
<circle cx="79.20" cy="569.80" r="1.6" fill="#07407a"/>
<circle cx="79.60" cy="574.70" r="1.6" fill="#07407a"/>
<circle cx="82.50" cy="571.50" r="1.6" fill="#07407a"/>
<circle cx="84.50" cy="571.10" r="1.6" fill="#07407a"/>
<circle cx="83.10" cy="574.10" r="1.6" fill="#07407a"/>
<circle cx="74.40" cy="586.20" r="1.6" fill="#07407a"/>
<circle cx="72.00" cy="588.10" r="1.6" fill="#07407a"/>
<circle cx="71.40" cy="591.20" r="1.6" fill="#07407a"/>
<circle cx="73.30" cy="591.40" r="1.6" fill="#07407a"/>
<circle cx="74.60" cy="589.50" r="1.6" fill="#07407a"/>
<circle cx="79.90" cy="587.50" r="1.6" fill="#07407a"/>
<circle cx="82.50" cy="590.40" r="1.6" fill="#07407a"/>
<circle cx="74.60" cy="603.80" r="1.6" fill="#07407a"/>
<circle cx="78.30" cy="604.50" r="1.6" fill="#07407a"/>
<circle cx="75.30" cy="607.10" r="1.6" fill="#07407a"/>
<circle cx="72.56" cy="661.27" r="1.6" fill="#07407a"/>
<circle cx="72.98" cy="661.43" r="1.6" fill="#07407a"/>
<circle cx="73.80" cy="659.98" r="1.6" fill="#07407a"/>
<circle cx="71.84" cy="662.06" r="1.6" fill="#07407a"/>
<circle cx="72.63" cy="660.43" r="1.6" fill="#07407a"/>
<circle cx="74.99" cy="661.07" r="1.6" fill="#07407a"/>
<circle cx="77.86" cy="660.60" r="1.6" fill="#07407a"/>
<circle cx="79.46" cy="660.90" r="1.6" fill="#07407a"/>
<circle cx="76.17" cy="662.33" r="1.6" fill="#07407a"/>
<circle cx="84.68" cy="664.64" r="1.6" fill="#07407a"/>
<circle cx="83.15" cy="661.29" r="1.6" fill="#07407a"/>
<circle cx="80.87" cy="661.60" r="1.6" fill="#07407a"/>
<circle cx="77.23" cy="660.62" r="1.6" fill="#07407a"/>
<circle cx="77.64" cy="665.38" r="1.6" fill="#07407a"/>
<circle cx="83.79" cy="664.68" r="1.6" fill="#07407a"/>
<circle cx="83.50" cy="661.12" r="1.6" fill="#07407a"/>
<circle cx="78.60" cy="663.64" r="1.6" fill="#07407a"/>
<circle cx="82.82" cy="664.96" r="1.6" fill="#07407a"/>
<circle cx="84.30" cy="660.50" r="1.6" fill="#07407a"/>
<circle cx="81.56" cy="663.90" r="1.6" fill="#07407a"/>
<circle cx="80.56" cy="661.03" r="1.6" fill="#07407a"/>
<circle cx="80.24" cy="660.52" r="1.6" fill="#07407a"/>
<circle cx="84.85" cy="665.02" r="1.6" fill="#07407a"/>
<circle cx="80.98" cy="661.74" r="1.6" fill="#07407a"/>
<circle cx="84.59" cy="663.32" r="1.6" fill="#07407a"/>
<circle cx="84.32" cy="664.92" r="1.6" fill="#07407a"/>
<circle cx="80.58" cy="662.40" r="1.6" fill="#07407a"/>
<circle cx="81.49" cy="662.50" r="1.6" fill="#07407a"/>
<circle cx="127.80" cy="504.40" r="1.6" fill="#07407a"/>
<circle cx="122.70" cy="507.20" r="1.6" fill="#07407a"/>
<circle cx="120.10" cy="523.40" r="1.6" fill="#07407a"/>
<circle cx="124.70" cy="522.20" r="1.6" fill="#07407a"/>
<circle cx="126.00" cy="522.50" r="1.6" fill="#07407a"/>
<circle cx="123.90" cy="526.40" r="1.6" fill="#07407a"/>
<circle cx="120.40" cy="540.20" r="1.6" fill="#07407a"/>
<circle cx="124.50" cy="540.40" r="1.6" fill="#07407a"/>
<circle cx="133.70" cy="541.70" r="1.6" fill="#07407a"/>
<circle cx="126.90" cy="556.80" r="1.6" fill="#07407a"/>
<circle cx="134.40" cy="556.30" r="1.6" fill="#07407a"/>
<circle cx="125.60" cy="559.40" r="1.6" fill="#07407a"/>
<circle cx="127.20" cy="571.90" r="1.6" fill="#07407a"/>
<circle cx="128.80" cy="574.80" r="1.6" fill="#07407a"/>
<circle cx="131.20" cy="576.40" r="1.6" fill="#07407a"/>
<circle cx="122.00" cy="586.00" r="1.6" fill="#07407a"/>
<circle cx="124.50" cy="588.90" r="1.6" fill="#07407a"/>
<circle cx="127.70" cy="590.50" r="1.6" fill="#07407a"/>
<circle cx="128.40" cy="592.40" r="1.6" fill="#07407a"/>
<circle cx="133.20" cy="586.80" r="1.6" fill="#07407a"/>
<circle cx="121.30" cy="602.00" r="1.6" fill="#07407a"/>
<circle cx="124.50" cy="602.00" r="1.6" fill="#07407a"/>
<circle cx="127.70" cy="602.00" r="1.6" fill="#07407a"/>
<circle cx="132.80" cy="602.40" r="1.6" fill="#07407a"/>
<circle cx="132.50" cy="605.60" r="1.6" fill="#07407a"/>
<circle cx="121.16" cy="664.20" r="1.6" fill="#07407a"/>
<circle cx="121.45" cy="665.44" r="1.6" fill="#07407a"/>
<circle cx="121.36" cy="665.32" r="1.6" fill="#07407a"/>
<circle cx="120.15" cy="662.49" r="1.6" fill="#07407a"/>
<circle cx="121.70" cy="663.62" r="1.6" fill="#07407a"/>
<circle cx="121.63" cy="660.30" r="1.6" fill="#07407a"/>
<circle cx="126.91" cy="664.77" r="1.6" fill="#07407a"/>
<circle cx="125.59" cy="661.52" r="1.6" fill="#07407a"/>
<circle cx="123.50" cy="663.84" r="1.6" fill="#07407a"/>
<circle cx="125.52" cy="664.41" r="1.6" fill="#07407a"/>
<circle cx="125.10" cy="664.47" r="1.6" fill="#07407a"/>
<circle cx="124.67" cy="664.65" r="1.6" fill="#07407a"/>
<circle cx="126.64" cy="662.40" r="1.6" fill="#07407a"/>
<circle cx="125.81" cy="663.96" r="1.6" fill="#07407a"/>
<circle cx="124.33" cy="663.21" r="1.6" fill="#07407a"/>
<circle cx="126.96" cy="661.54" r="1.6" fill="#07407a"/>
<circle cx="130.35" cy="662.74" r="1.6" fill="#07407a"/>
<circle cx="132.21" cy="662.46" r="1.6" fill="#07407a"/>
<circle cx="131.55" cy="663.52" r="1.6" fill="#07407a"/>
<circle cx="128.83" cy="664.03" r="1.6" fill="#07407a"/>
<circle cx="128.71" cy="663.76" r="1.6" fill="#07407a"/>
<circle cx="128.90" cy="662.53" r="1.6" fill="#07407a"/>
<circle cx="130.92" cy="665.18" r="1.6" fill="#07407a"/>
<circle cx="129.21" cy="663.00" r="1.6" fill="#07407a"/>
<circle cx="132.08" cy="665.61" r="1.6" fill="#07407a"/>
<circle cx="131.79" cy="663.63" r="1.6" fill="#07407a"/>
<line x1="48.00" y1="667.45" x2="154.00" y2="667.45" stroke="#141414" stroke-width="1.6" />
<line x1="78.10" y1="667.45" x2="78.10" y2="670.45" stroke="#141414" stroke-width="1.0" />
<text x="78.10" y="679.60" font-size="8.3" text-anchor="middle" fill="#1a1a1a" font-weight="normal" stroke="#1a1a1a" stroke-width="0.2" textLength="12.6" lengthAdjust="spacingAndGlyphs" >WT</text>
<line x1="127.40" y1="667.45" x2="127.40" y2="670.45" stroke="#141414" stroke-width="1.0" />
<text x="127.40" y="679.60" font-size="8.3" text-anchor="middle" fill="#1a1a1a" font-weight="normal" stroke="#1a1a1a" stroke-width="0.2" textLength="25.0" lengthAdjust="spacingAndGlyphs" >B.1.1.7</text>
<text x="19.20" y="577.50" font-size="9.6" text-anchor="middle" fill="#222" font-weight="normal" textLength="62.3" lengthAdjust="spacingAndGlyphs" transform="rotate(-90 19.20 577.50)" >Neutralisation titer</text>
<text x="101.90" y="477.70" font-size="8.4" text-anchor="middle" fill="#1a1a1a" font-weight="normal" stroke="#1a1a1a" stroke-width="0.2" textLength="29.4" lengthAdjust="spacingAndGlyphs" >p = 0.17</text>
<line x1="87.10" y1="481.20" x2="116.30" y2="481.20" stroke="#2b2b2b" stroke-width="1.1" />
</svg>
<div id="frame"></div>
</body></html>
